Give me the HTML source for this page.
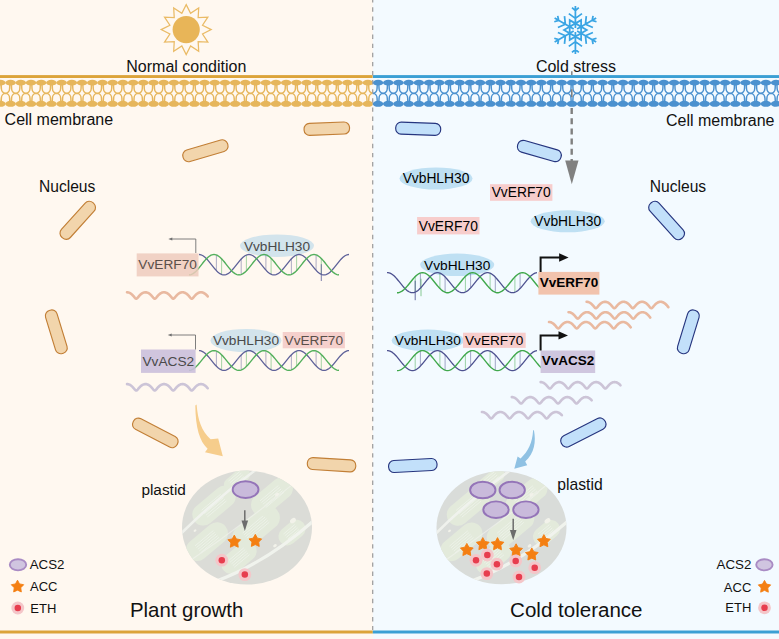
<!DOCTYPE html>
<html><head><meta charset="utf-8"><style>
html,body{margin:0;padding:0;background:#fdf8f1;}
svg{display:block;}
</style></head><body>
<svg width="779" height="639" viewBox="0 0 779 639">
<rect x="0" y="0" width="372.8" height="639" fill="#fff8f0"/>
<rect x="372.8" y="0" width="406.2" height="639" fill="#f3faff"/>
<clipPath id="cm1"><rect x="0" y="60" width="372.8" height="60"/></clipPath>
<g clip-path="url(#cm1)">
<rect x="0" y="75.1" width="372.8" height="2.9" fill="#dca43a"/>
<path d="M-10.61,84.5 L-10.81,88.6 C-10.81,90.8 -12.41,93.1 -14.91,93.3 C-12.41,93.5 -10.81,95.8 -10.81,98.0 L-10.61,102 M-9.01,84.5 L-8.81,88.6 C-8.81,90.8 -7.21,93.1 -4.71,93.3 C-7.21,93.5 -8.81,95.8 -8.81,98.0 L-9.01,102 M-0.41,84.5 L-0.61,88.6 C-0.61,90.8 -2.21,93.1 -4.71,93.3 C-2.21,93.5 -0.61,95.8 -0.61,98.0 L-0.41,102 M1.19,84.5 L1.39,88.6 C1.39,90.8 2.99,93.1 5.49,93.3 C2.99,93.5 1.39,95.8 1.39,98.0 L1.19,102 M9.80,84.5 L9.60,88.6 C9.60,90.8 8.00,93.1 5.50,93.3 C8.00,93.5 9.60,95.8 9.60,98.0 L9.80,102 M11.40,84.5 L11.60,88.6 C11.60,90.8 13.20,93.1 15.70,93.3 C13.20,93.5 11.60,95.8 11.60,98.0 L11.40,102 M20.01,84.5 L19.81,88.6 C19.81,90.8 18.21,93.1 15.71,93.3 C18.21,93.5 19.81,95.8 19.81,98.0 L20.01,102 M21.61,84.5 L21.81,88.6 C21.81,90.8 23.41,93.1 25.91,93.3 C23.41,93.5 21.81,95.8 21.81,98.0 L21.61,102 M30.21,84.5 L30.01,88.6 C30.01,90.8 28.41,93.1 25.91,93.3 C28.41,93.5 30.01,95.8 30.01,98.0 L30.21,102 M31.81,84.5 L32.01,88.6 C32.01,90.8 33.61,93.1 36.11,93.3 C33.61,93.5 32.01,95.8 32.01,98.0 L31.81,102 M40.42,84.5 L40.22,88.6 C40.22,90.8 38.62,93.1 36.12,93.3 C38.62,93.5 40.22,95.8 40.22,98.0 L40.42,102 M42.02,84.5 L42.22,88.6 C42.22,90.8 43.82,93.1 46.32,93.3 C43.82,93.5 42.22,95.8 42.22,98.0 L42.02,102 M50.63,84.5 L50.43,88.6 C50.43,90.8 48.83,93.1 46.33,93.3 C48.83,93.5 50.43,95.8 50.43,98.0 L50.63,102 M52.23,84.5 L52.43,88.6 C52.43,90.8 54.03,93.1 56.53,93.3 C54.03,93.5 52.43,95.8 52.43,98.0 L52.23,102 M60.84,84.5 L60.64,88.6 C60.64,90.8 59.04,93.1 56.54,93.3 C59.04,93.5 60.64,95.8 60.64,98.0 L60.84,102 M62.44,84.5 L62.64,88.6 C62.64,90.8 64.23,93.1 66.73,93.3 C64.23,93.5 62.64,95.8 62.64,98.0 L62.44,102 M71.04,84.5 L70.84,88.6 C70.84,90.8 69.24,93.1 66.74,93.3 C69.24,93.5 70.84,95.8 70.84,98.0 L71.04,102 M72.64,84.5 L72.84,88.6 C72.84,90.8 74.44,93.1 76.94,93.3 C74.44,93.5 72.84,95.8 72.84,98.0 L72.64,102 M81.25,84.5 L81.05,88.6 C81.05,90.8 79.45,93.1 76.95,93.3 C79.45,93.5 81.05,95.8 81.05,98.0 L81.25,102 M82.85,84.5 L83.05,88.6 C83.05,90.8 84.65,93.1 87.15,93.3 C84.65,93.5 83.05,95.8 83.05,98.0 L82.85,102 M91.46,84.5 L91.26,88.6 C91.26,90.8 89.66,93.1 87.16,93.3 C89.66,93.5 91.26,95.8 91.26,98.0 L91.46,102 M93.06,84.5 L93.26,88.6 C93.26,90.8 94.86,93.1 97.36,93.3 C94.86,93.5 93.26,95.8 93.26,98.0 L93.06,102 M101.66,84.5 L101.46,88.6 C101.46,90.8 99.86,93.1 97.36,93.3 C99.86,93.5 101.46,95.8 101.46,98.0 L101.66,102 M103.26,84.5 L103.46,88.6 C103.46,90.8 105.06,93.1 107.56,93.3 C105.06,93.5 103.46,95.8 103.46,98.0 L103.26,102 M111.87,84.5 L111.67,88.6 C111.67,90.8 110.07,93.1 107.57,93.3 C110.07,93.5 111.67,95.8 111.67,98.0 L111.87,102 M113.47,84.5 L113.67,88.6 C113.67,90.8 115.27,93.1 117.77,93.3 C115.27,93.5 113.67,95.8 113.67,98.0 L113.47,102 M122.08,84.5 L121.88,88.6 C121.88,90.8 120.28,93.1 117.78,93.3 C120.28,93.5 121.88,95.8 121.88,98.0 L122.08,102 M123.68,84.5 L123.88,88.6 C123.88,90.8 125.48,93.1 127.98,93.3 C125.48,93.5 123.88,95.8 123.88,98.0 L123.68,102 M132.28,84.5 L132.08,88.6 C132.08,90.8 130.48,93.1 127.98,93.3 C130.48,93.5 132.08,95.8 132.08,98.0 L132.28,102 M133.88,84.5 L134.08,88.6 C134.08,90.8 135.68,93.1 138.18,93.3 C135.68,93.5 134.08,95.8 134.08,98.0 L133.88,102 M142.49,84.5 L142.29,88.6 C142.29,90.8 140.69,93.1 138.19,93.3 C140.69,93.5 142.29,95.8 142.29,98.0 L142.49,102 M144.09,84.5 L144.29,88.6 C144.29,90.8 145.89,93.1 148.39,93.3 C145.89,93.5 144.29,95.8 144.29,98.0 L144.09,102 M152.70,84.5 L152.50,88.6 C152.50,90.8 150.90,93.1 148.40,93.3 C150.90,93.5 152.50,95.8 152.50,98.0 L152.70,102 M154.30,84.5 L154.50,88.6 C154.50,90.8 156.10,93.1 158.60,93.3 C156.10,93.5 154.50,95.8 154.50,98.0 L154.30,102 M162.91,84.5 L162.71,88.6 C162.71,90.8 161.11,93.1 158.61,93.3 C161.11,93.5 162.71,95.8 162.71,98.0 L162.91,102 M164.51,84.5 L164.71,88.6 C164.71,90.8 166.31,93.1 168.81,93.3 C166.31,93.5 164.71,95.8 164.71,98.0 L164.51,102 M173.11,84.5 L172.91,88.6 C172.91,90.8 171.31,93.1 168.81,93.3 C171.31,93.5 172.91,95.8 172.91,98.0 L173.11,102 M174.71,84.5 L174.91,88.6 C174.91,90.8 176.51,93.1 179.01,93.3 C176.51,93.5 174.91,95.8 174.91,98.0 L174.71,102 M183.32,84.5 L183.12,88.6 C183.12,90.8 181.52,93.1 179.02,93.3 C181.52,93.5 183.12,95.8 183.12,98.0 L183.32,102 M184.92,84.5 L185.12,88.6 C185.12,90.8 186.72,93.1 189.22,93.3 C186.72,93.5 185.12,95.8 185.12,98.0 L184.92,102 M193.53,84.5 L193.33,88.6 C193.33,90.8 191.73,93.1 189.23,93.3 C191.73,93.5 193.33,95.8 193.33,98.0 L193.53,102 M195.13,84.5 L195.33,88.6 C195.33,90.8 196.93,93.1 199.43,93.3 C196.93,93.5 195.33,95.8 195.33,98.0 L195.13,102 M203.73,84.5 L203.53,88.6 C203.53,90.8 201.93,93.1 199.43,93.3 C201.93,93.5 203.53,95.8 203.53,98.0 L203.73,102 M205.33,84.5 L205.53,88.6 C205.53,90.8 207.13,93.1 209.63,93.3 C207.13,93.5 205.53,95.8 205.53,98.0 L205.33,102 M213.94,84.5 L213.74,88.6 C213.74,90.8 212.14,93.1 209.64,93.3 C212.14,93.5 213.74,95.8 213.74,98.0 L213.94,102 M215.54,84.5 L215.74,88.6 C215.74,90.8 217.34,93.1 219.84,93.3 C217.34,93.5 215.74,95.8 215.74,98.0 L215.54,102 M224.15,84.5 L223.95,88.6 C223.95,90.8 222.35,93.1 219.85,93.3 C222.35,93.5 223.95,95.8 223.95,98.0 L224.15,102 M225.75,84.5 L225.95,88.6 C225.95,90.8 227.55,93.1 230.05,93.3 C227.55,93.5 225.95,95.8 225.95,98.0 L225.75,102 M234.35,84.5 L234.15,88.6 C234.15,90.8 232.55,93.1 230.05,93.3 C232.55,93.5 234.15,95.8 234.15,98.0 L234.35,102 M235.95,84.5 L236.15,88.6 C236.15,90.8 237.75,93.1 240.25,93.3 C237.75,93.5 236.15,95.8 236.15,98.0 L235.95,102 M244.56,84.5 L244.36,88.6 C244.36,90.8 242.76,93.1 240.26,93.3 C242.76,93.5 244.36,95.8 244.36,98.0 L244.56,102 M246.16,84.5 L246.36,88.6 C246.36,90.8 247.96,93.1 250.46,93.3 C247.96,93.5 246.36,95.8 246.36,98.0 L246.16,102 M254.77,84.5 L254.57,88.6 C254.57,90.8 252.97,93.1 250.47,93.3 C252.97,93.5 254.57,95.8 254.57,98.0 L254.77,102 M256.37,84.5 L256.57,88.6 C256.57,90.8 258.17,93.1 260.67,93.3 C258.17,93.5 256.57,95.8 256.57,98.0 L256.37,102 M264.98,84.5 L264.78,88.6 C264.78,90.8 263.18,93.1 260.68,93.3 C263.18,93.5 264.78,95.8 264.78,98.0 L264.98,102 M266.58,84.5 L266.78,88.6 C266.78,90.8 268.38,93.1 270.88,93.3 C268.38,93.5 266.78,95.8 266.78,98.0 L266.58,102 M275.18,84.5 L274.98,88.6 C274.98,90.8 273.38,93.1 270.88,93.3 C273.38,93.5 274.98,95.8 274.98,98.0 L275.18,102 M276.78,84.5 L276.98,88.6 C276.98,90.8 278.58,93.1 281.08,93.3 C278.58,93.5 276.98,95.8 276.98,98.0 L276.78,102 M285.39,84.5 L285.19,88.6 C285.19,90.8 283.59,93.1 281.09,93.3 C283.59,93.5 285.19,95.8 285.19,98.0 L285.39,102 M286.99,84.5 L287.19,88.6 C287.19,90.8 288.79,93.1 291.29,93.3 C288.79,93.5 287.19,95.8 287.19,98.0 L286.99,102 M295.60,84.5 L295.40,88.6 C295.40,90.8 293.80,93.1 291.30,93.3 C293.80,93.5 295.40,95.8 295.40,98.0 L295.60,102 M297.20,84.5 L297.40,88.6 C297.40,90.8 299.00,93.1 301.50,93.3 C299.00,93.5 297.40,95.8 297.40,98.0 L297.20,102 M305.80,84.5 L305.60,88.6 C305.60,90.8 304.00,93.1 301.50,93.3 C304.00,93.5 305.60,95.8 305.60,98.0 L305.80,102 M307.40,84.5 L307.60,88.6 C307.60,90.8 309.20,93.1 311.70,93.3 C309.20,93.5 307.60,95.8 307.60,98.0 L307.40,102 M316.01,84.5 L315.81,88.6 C315.81,90.8 314.21,93.1 311.71,93.3 C314.21,93.5 315.81,95.8 315.81,98.0 L316.01,102 M317.61,84.5 L317.81,88.6 C317.81,90.8 319.41,93.1 321.91,93.3 C319.41,93.5 317.81,95.8 317.81,98.0 L317.61,102 M326.22,84.5 L326.02,88.6 C326.02,90.8 324.42,93.1 321.92,93.3 C324.42,93.5 326.02,95.8 326.02,98.0 L326.22,102 M327.82,84.5 L328.02,88.6 C328.02,90.8 329.62,93.1 332.12,93.3 C329.62,93.5 328.02,95.8 328.02,98.0 L327.82,102 M336.42,84.5 L336.22,88.6 C336.22,90.8 334.62,93.1 332.12,93.3 C334.62,93.5 336.22,95.8 336.22,98.0 L336.42,102 M338.02,84.5 L338.22,88.6 C338.22,90.8 339.82,93.1 342.32,93.3 C339.82,93.5 338.22,95.8 338.22,98.0 L338.02,102 M346.63,84.5 L346.43,88.6 C346.43,90.8 344.83,93.1 342.33,93.3 C344.83,93.5 346.43,95.8 346.43,98.0 L346.63,102 M348.23,84.5 L348.43,88.6 C348.43,90.8 350.03,93.1 352.53,93.3 C350.03,93.5 348.43,95.8 348.43,98.0 L348.23,102 M356.84,84.5 L356.64,88.6 C356.64,90.8 355.04,93.1 352.54,93.3 C355.04,93.5 356.64,95.8 356.64,98.0 L356.84,102 M358.44,84.5 L358.64,88.6 C358.64,90.8 360.24,93.1 362.74,93.3 C360.24,93.5 358.64,95.8 358.64,98.0 L358.44,102 M367.05,84.5 L366.85,88.6 C366.85,90.8 365.25,93.1 362.75,93.3 C365.25,93.5 366.85,95.8 366.85,98.0 L367.05,102 M368.65,84.5 L368.85,88.6 C368.85,90.8 370.45,93.1 372.95,93.3 C370.45,93.5 368.85,95.8 368.85,98.0 L368.65,102 M377.25,84.5 L377.05,88.6 C377.05,90.8 375.45,93.1 372.95,93.3 C375.45,93.5 377.05,95.8 377.05,98.0 L377.25,102 M378.85,84.5 L379.05,88.6 C379.05,90.8 380.65,93.1 383.15,93.3 C380.65,93.5 379.05,95.8 379.05,98.0 L378.85,102" fill="none" stroke="#e6b65c" stroke-width="1.45"/>
<g fill="#e6b65c"><ellipse cx="-9.81" cy="82.7" rx="5.3" ry="2.85"/><ellipse cx="-9.81" cy="103.8" rx="5.3" ry="2.95"/><ellipse cx="0.39" cy="82.7" rx="5.3" ry="2.85"/><ellipse cx="0.39" cy="103.8" rx="5.3" ry="2.95"/><ellipse cx="10.60" cy="82.7" rx="5.3" ry="2.85"/><ellipse cx="10.60" cy="103.8" rx="5.3" ry="2.95"/><ellipse cx="20.81" cy="82.7" rx="5.3" ry="2.85"/><ellipse cx="20.81" cy="103.8" rx="5.3" ry="2.95"/><ellipse cx="31.01" cy="82.7" rx="5.3" ry="2.85"/><ellipse cx="31.01" cy="103.8" rx="5.3" ry="2.95"/><ellipse cx="41.22" cy="82.7" rx="5.3" ry="2.85"/><ellipse cx="41.22" cy="103.8" rx="5.3" ry="2.95"/><ellipse cx="51.43" cy="82.7" rx="5.3" ry="2.85"/><ellipse cx="51.43" cy="103.8" rx="5.3" ry="2.95"/><ellipse cx="61.64" cy="82.7" rx="5.3" ry="2.85"/><ellipse cx="61.64" cy="103.8" rx="5.3" ry="2.95"/><ellipse cx="71.84" cy="82.7" rx="5.3" ry="2.85"/><ellipse cx="71.84" cy="103.8" rx="5.3" ry="2.95"/><ellipse cx="82.05" cy="82.7" rx="5.3" ry="2.85"/><ellipse cx="82.05" cy="103.8" rx="5.3" ry="2.95"/><ellipse cx="92.26" cy="82.7" rx="5.3" ry="2.85"/><ellipse cx="92.26" cy="103.8" rx="5.3" ry="2.95"/><ellipse cx="102.46" cy="82.7" rx="5.3" ry="2.85"/><ellipse cx="102.46" cy="103.8" rx="5.3" ry="2.95"/><ellipse cx="112.67" cy="82.7" rx="5.3" ry="2.85"/><ellipse cx="112.67" cy="103.8" rx="5.3" ry="2.95"/><ellipse cx="122.88" cy="82.7" rx="5.3" ry="2.85"/><ellipse cx="122.88" cy="103.8" rx="5.3" ry="2.95"/><ellipse cx="133.08" cy="82.7" rx="5.3" ry="2.85"/><ellipse cx="133.08" cy="103.8" rx="5.3" ry="2.95"/><ellipse cx="143.29" cy="82.7" rx="5.3" ry="2.85"/><ellipse cx="143.29" cy="103.8" rx="5.3" ry="2.95"/><ellipse cx="153.50" cy="82.7" rx="5.3" ry="2.85"/><ellipse cx="153.50" cy="103.8" rx="5.3" ry="2.95"/><ellipse cx="163.71" cy="82.7" rx="5.3" ry="2.85"/><ellipse cx="163.71" cy="103.8" rx="5.3" ry="2.95"/><ellipse cx="173.91" cy="82.7" rx="5.3" ry="2.85"/><ellipse cx="173.91" cy="103.8" rx="5.3" ry="2.95"/><ellipse cx="184.12" cy="82.7" rx="5.3" ry="2.85"/><ellipse cx="184.12" cy="103.8" rx="5.3" ry="2.95"/><ellipse cx="194.33" cy="82.7" rx="5.3" ry="2.85"/><ellipse cx="194.33" cy="103.8" rx="5.3" ry="2.95"/><ellipse cx="204.53" cy="82.7" rx="5.3" ry="2.85"/><ellipse cx="204.53" cy="103.8" rx="5.3" ry="2.95"/><ellipse cx="214.74" cy="82.7" rx="5.3" ry="2.85"/><ellipse cx="214.74" cy="103.8" rx="5.3" ry="2.95"/><ellipse cx="224.95" cy="82.7" rx="5.3" ry="2.85"/><ellipse cx="224.95" cy="103.8" rx="5.3" ry="2.95"/><ellipse cx="235.15" cy="82.7" rx="5.3" ry="2.85"/><ellipse cx="235.15" cy="103.8" rx="5.3" ry="2.95"/><ellipse cx="245.36" cy="82.7" rx="5.3" ry="2.85"/><ellipse cx="245.36" cy="103.8" rx="5.3" ry="2.95"/><ellipse cx="255.57" cy="82.7" rx="5.3" ry="2.85"/><ellipse cx="255.57" cy="103.8" rx="5.3" ry="2.95"/><ellipse cx="265.78" cy="82.7" rx="5.3" ry="2.85"/><ellipse cx="265.78" cy="103.8" rx="5.3" ry="2.95"/><ellipse cx="275.98" cy="82.7" rx="5.3" ry="2.85"/><ellipse cx="275.98" cy="103.8" rx="5.3" ry="2.95"/><ellipse cx="286.19" cy="82.7" rx="5.3" ry="2.85"/><ellipse cx="286.19" cy="103.8" rx="5.3" ry="2.95"/><ellipse cx="296.40" cy="82.7" rx="5.3" ry="2.85"/><ellipse cx="296.40" cy="103.8" rx="5.3" ry="2.95"/><ellipse cx="306.60" cy="82.7" rx="5.3" ry="2.85"/><ellipse cx="306.60" cy="103.8" rx="5.3" ry="2.95"/><ellipse cx="316.81" cy="82.7" rx="5.3" ry="2.85"/><ellipse cx="316.81" cy="103.8" rx="5.3" ry="2.95"/><ellipse cx="327.02" cy="82.7" rx="5.3" ry="2.85"/><ellipse cx="327.02" cy="103.8" rx="5.3" ry="2.95"/><ellipse cx="337.22" cy="82.7" rx="5.3" ry="2.85"/><ellipse cx="337.22" cy="103.8" rx="5.3" ry="2.95"/><ellipse cx="347.43" cy="82.7" rx="5.3" ry="2.85"/><ellipse cx="347.43" cy="103.8" rx="5.3" ry="2.95"/><ellipse cx="357.64" cy="82.7" rx="5.3" ry="2.85"/><ellipse cx="357.64" cy="103.8" rx="5.3" ry="2.95"/><ellipse cx="367.85" cy="82.7" rx="5.3" ry="2.85"/><ellipse cx="367.85" cy="103.8" rx="5.3" ry="2.95"/><ellipse cx="378.05" cy="82.7" rx="5.3" ry="2.85"/><ellipse cx="378.05" cy="103.8" rx="5.3" ry="2.95"/></g>
</g>
<clipPath id="cm2"><rect x="372.8" y="60" width="406.2" height="60"/></clipPath>
<g clip-path="url(#cm2)">
<rect x="372.8" y="75.1" width="406.2" height="2.9" fill="#3b9fd4"/>
<path d="M367.05,84.5 L366.85,88.6 C366.85,90.8 365.25,93.1 362.75,93.3 C365.25,93.5 366.85,95.8 366.85,98.0 L367.05,102 M368.65,84.5 L368.85,88.6 C368.85,90.8 370.45,93.1 372.95,93.3 C370.45,93.5 368.85,95.8 368.85,98.0 L368.65,102 M377.25,84.5 L377.05,88.6 C377.05,90.8 375.45,93.1 372.95,93.3 C375.45,93.5 377.05,95.8 377.05,98.0 L377.25,102 M378.85,84.5 L379.05,88.6 C379.05,90.8 380.65,93.1 383.15,93.3 C380.65,93.5 379.05,95.8 379.05,98.0 L378.85,102 M387.46,84.5 L387.26,88.6 C387.26,90.8 385.66,93.1 383.16,93.3 C385.66,93.5 387.26,95.8 387.26,98.0 L387.46,102 M389.06,84.5 L389.26,88.6 C389.26,90.8 390.86,93.1 393.36,93.3 C390.86,93.5 389.26,95.8 389.26,98.0 L389.06,102 M397.67,84.5 L397.47,88.6 C397.47,90.8 395.87,93.1 393.37,93.3 C395.87,93.5 397.47,95.8 397.47,98.0 L397.67,102 M399.27,84.5 L399.47,88.6 C399.47,90.8 401.07,93.1 403.57,93.3 C401.07,93.5 399.47,95.8 399.47,98.0 L399.27,102 M407.87,84.5 L407.67,88.6 C407.67,90.8 406.07,93.1 403.57,93.3 C406.07,93.5 407.67,95.8 407.67,98.0 L407.87,102 M409.47,84.5 L409.67,88.6 C409.67,90.8 411.27,93.1 413.77,93.3 C411.27,93.5 409.67,95.8 409.67,98.0 L409.47,102 M418.08,84.5 L417.88,88.6 C417.88,90.8 416.28,93.1 413.78,93.3 C416.28,93.5 417.88,95.8 417.88,98.0 L418.08,102 M419.68,84.5 L419.88,88.6 C419.88,90.8 421.48,93.1 423.98,93.3 C421.48,93.5 419.88,95.8 419.88,98.0 L419.68,102 M428.29,84.5 L428.09,88.6 C428.09,90.8 426.49,93.1 423.99,93.3 C426.49,93.5 428.09,95.8 428.09,98.0 L428.29,102 M429.89,84.5 L430.09,88.6 C430.09,90.8 431.69,93.1 434.19,93.3 C431.69,93.5 430.09,95.8 430.09,98.0 L429.89,102 M438.49,84.5 L438.29,88.6 C438.29,90.8 436.69,93.1 434.19,93.3 C436.69,93.5 438.29,95.8 438.29,98.0 L438.49,102 M440.09,84.5 L440.29,88.6 C440.29,90.8 441.89,93.1 444.39,93.3 C441.89,93.5 440.29,95.8 440.29,98.0 L440.09,102 M448.70,84.5 L448.50,88.6 C448.50,90.8 446.90,93.1 444.40,93.3 C446.90,93.5 448.50,95.8 448.50,98.0 L448.70,102 M450.30,84.5 L450.50,88.6 C450.50,90.8 452.10,93.1 454.60,93.3 C452.10,93.5 450.50,95.8 450.50,98.0 L450.30,102 M458.91,84.5 L458.71,88.6 C458.71,90.8 457.11,93.1 454.61,93.3 C457.11,93.5 458.71,95.8 458.71,98.0 L458.91,102 M460.51,84.5 L460.71,88.6 C460.71,90.8 462.31,93.1 464.81,93.3 C462.31,93.5 460.71,95.8 460.71,98.0 L460.51,102 M469.12,84.5 L468.92,88.6 C468.92,90.8 467.32,93.1 464.82,93.3 C467.32,93.5 468.92,95.8 468.92,98.0 L469.12,102 M470.72,84.5 L470.92,88.6 C470.92,90.8 472.52,93.1 475.02,93.3 C472.52,93.5 470.92,95.8 470.92,98.0 L470.72,102 M479.32,84.5 L479.12,88.6 C479.12,90.8 477.52,93.1 475.02,93.3 C477.52,93.5 479.12,95.8 479.12,98.0 L479.32,102 M480.92,84.5 L481.12,88.6 C481.12,90.8 482.72,93.1 485.22,93.3 C482.72,93.5 481.12,95.8 481.12,98.0 L480.92,102 M489.53,84.5 L489.33,88.6 C489.33,90.8 487.73,93.1 485.23,93.3 C487.73,93.5 489.33,95.8 489.33,98.0 L489.53,102 M491.13,84.5 L491.33,88.6 C491.33,90.8 492.93,93.1 495.43,93.3 C492.93,93.5 491.33,95.8 491.33,98.0 L491.13,102 M499.74,84.5 L499.54,88.6 C499.54,90.8 497.94,93.1 495.44,93.3 C497.94,93.5 499.54,95.8 499.54,98.0 L499.74,102 M501.34,84.5 L501.54,88.6 C501.54,90.8 503.14,93.1 505.64,93.3 C503.14,93.5 501.54,95.8 501.54,98.0 L501.34,102 M509.94,84.5 L509.74,88.6 C509.74,90.8 508.14,93.1 505.64,93.3 C508.14,93.5 509.74,95.8 509.74,98.0 L509.94,102 M511.54,84.5 L511.74,88.6 C511.74,90.8 513.34,93.1 515.84,93.3 C513.34,93.5 511.74,95.8 511.74,98.0 L511.54,102 M520.15,84.5 L519.95,88.6 C519.95,90.8 518.35,93.1 515.85,93.3 C518.35,93.5 519.95,95.8 519.95,98.0 L520.15,102 M521.75,84.5 L521.95,88.6 C521.95,90.8 523.55,93.1 526.05,93.3 C523.55,93.5 521.95,95.8 521.95,98.0 L521.75,102 M530.36,84.5 L530.16,88.6 C530.16,90.8 528.56,93.1 526.06,93.3 C528.56,93.5 530.16,95.8 530.16,98.0 L530.36,102 M531.96,84.5 L532.16,88.6 C532.16,90.8 533.76,93.1 536.26,93.3 C533.76,93.5 532.16,95.8 532.16,98.0 L531.96,102 M540.56,84.5 L540.36,88.6 C540.36,90.8 538.76,93.1 536.26,93.3 C538.76,93.5 540.36,95.8 540.36,98.0 L540.56,102 M542.16,84.5 L542.36,88.6 C542.36,90.8 543.96,93.1 546.46,93.3 C543.96,93.5 542.36,95.8 542.36,98.0 L542.16,102 M550.77,84.5 L550.57,88.6 C550.57,90.8 548.97,93.1 546.47,93.3 C548.97,93.5 550.57,95.8 550.57,98.0 L550.77,102 M552.37,84.5 L552.57,88.6 C552.57,90.8 554.17,93.1 556.67,93.3 C554.17,93.5 552.57,95.8 552.57,98.0 L552.37,102 M560.98,84.5 L560.78,88.6 C560.78,90.8 559.18,93.1 556.68,93.3 C559.18,93.5 560.78,95.8 560.78,98.0 L560.98,102 M562.58,84.5 L562.78,88.6 C562.78,90.8 564.38,93.1 566.88,93.3 C564.38,93.5 562.78,95.8 562.78,98.0 L562.58,102 M571.19,84.5 L570.99,88.6 C570.99,90.8 569.38,93.1 566.88,93.3 C569.38,93.5 570.99,95.8 570.99,98.0 L571.19,102 M572.78,84.5 L572.99,88.6 C572.99,90.8 574.59,93.1 577.09,93.3 C574.59,93.5 572.99,95.8 572.99,98.0 L572.78,102 M581.39,84.5 L581.19,88.6 C581.19,90.8 579.59,93.1 577.09,93.3 C579.59,93.5 581.19,95.8 581.19,98.0 L581.39,102 M582.99,84.5 L583.19,88.6 C583.19,90.8 584.79,93.1 587.29,93.3 C584.79,93.5 583.19,95.8 583.19,98.0 L582.99,102 M591.60,84.5 L591.40,88.6 C591.40,90.8 589.80,93.1 587.30,93.3 C589.80,93.5 591.40,95.8 591.40,98.0 L591.60,102 M593.20,84.5 L593.40,88.6 C593.40,90.8 595.00,93.1 597.50,93.3 C595.00,93.5 593.40,95.8 593.40,98.0 L593.20,102 M601.81,84.5 L601.61,88.6 C601.61,90.8 600.01,93.1 597.51,93.3 C600.01,93.5 601.61,95.8 601.61,98.0 L601.81,102 M603.41,84.5 L603.61,88.6 C603.61,90.8 605.21,93.1 607.71,93.3 C605.21,93.5 603.61,95.8 603.61,98.0 L603.41,102 M612.01,84.5 L611.81,88.6 C611.81,90.8 610.21,93.1 607.71,93.3 C610.21,93.5 611.81,95.8 611.81,98.0 L612.01,102 M613.61,84.5 L613.81,88.6 C613.81,90.8 615.41,93.1 617.91,93.3 C615.41,93.5 613.81,95.8 613.81,98.0 L613.61,102 M622.22,84.5 L622.02,88.6 C622.02,90.8 620.42,93.1 617.92,93.3 C620.42,93.5 622.02,95.8 622.02,98.0 L622.22,102 M623.82,84.5 L624.02,88.6 C624.02,90.8 625.62,93.1 628.12,93.3 C625.62,93.5 624.02,95.8 624.02,98.0 L623.82,102 M632.43,84.5 L632.23,88.6 C632.23,90.8 630.63,93.1 628.13,93.3 C630.63,93.5 632.23,95.8 632.23,98.0 L632.43,102 M634.03,84.5 L634.23,88.6 C634.23,90.8 635.83,93.1 638.33,93.3 C635.83,93.5 634.23,95.8 634.23,98.0 L634.03,102 M642.63,84.5 L642.43,88.6 C642.43,90.8 640.83,93.1 638.33,93.3 C640.83,93.5 642.43,95.8 642.43,98.0 L642.63,102 M644.23,84.5 L644.43,88.6 C644.43,90.8 646.03,93.1 648.53,93.3 C646.03,93.5 644.43,95.8 644.43,98.0 L644.23,102 M652.84,84.5 L652.64,88.6 C652.64,90.8 651.04,93.1 648.54,93.3 C651.04,93.5 652.64,95.8 652.64,98.0 L652.84,102 M654.44,84.5 L654.64,88.6 C654.64,90.8 656.24,93.1 658.74,93.3 C656.24,93.5 654.64,95.8 654.64,98.0 L654.44,102 M663.05,84.5 L662.85,88.6 C662.85,90.8 661.25,93.1 658.75,93.3 C661.25,93.5 662.85,95.8 662.85,98.0 L663.05,102 M664.65,84.5 L664.85,88.6 C664.85,90.8 666.45,93.1 668.95,93.3 C666.45,93.5 664.85,95.8 664.85,98.0 L664.65,102 M673.26,84.5 L673.06,88.6 C673.06,90.8 671.46,93.1 668.96,93.3 C671.46,93.5 673.06,95.8 673.06,98.0 L673.26,102 M674.86,84.5 L675.06,88.6 C675.06,90.8 676.66,93.1 679.16,93.3 C676.66,93.5 675.06,95.8 675.06,98.0 L674.86,102 M683.46,84.5 L683.26,88.6 C683.26,90.8 681.66,93.1 679.16,93.3 C681.66,93.5 683.26,95.8 683.26,98.0 L683.46,102 M685.06,84.5 L685.26,88.6 C685.26,90.8 686.86,93.1 689.36,93.3 C686.86,93.5 685.26,95.8 685.26,98.0 L685.06,102 M693.67,84.5 L693.47,88.6 C693.47,90.8 691.87,93.1 689.37,93.3 C691.87,93.5 693.47,95.8 693.47,98.0 L693.67,102 M695.27,84.5 L695.47,88.6 C695.47,90.8 697.07,93.1 699.57,93.3 C697.07,93.5 695.47,95.8 695.47,98.0 L695.27,102 M703.88,84.5 L703.68,88.6 C703.68,90.8 702.08,93.1 699.58,93.3 C702.08,93.5 703.68,95.8 703.68,98.0 L703.88,102 M705.48,84.5 L705.68,88.6 C705.68,90.8 707.28,93.1 709.78,93.3 C707.28,93.5 705.68,95.8 705.68,98.0 L705.48,102 M714.08,84.5 L713.88,88.6 C713.88,90.8 712.28,93.1 709.78,93.3 C712.28,93.5 713.88,95.8 713.88,98.0 L714.08,102 M715.68,84.5 L715.88,88.6 C715.88,90.8 717.48,93.1 719.98,93.3 C717.48,93.5 715.88,95.8 715.88,98.0 L715.68,102 M724.29,84.5 L724.09,88.6 C724.09,90.8 722.49,93.1 719.99,93.3 C722.49,93.5 724.09,95.8 724.09,98.0 L724.29,102 M725.89,84.5 L726.09,88.6 C726.09,90.8 727.69,93.1 730.19,93.3 C727.69,93.5 726.09,95.8 726.09,98.0 L725.89,102 M734.50,84.5 L734.30,88.6 C734.30,90.8 732.70,93.1 730.20,93.3 C732.70,93.5 734.30,95.8 734.30,98.0 L734.50,102 M736.10,84.5 L736.30,88.6 C736.30,90.8 737.90,93.1 740.40,93.3 C737.90,93.5 736.30,95.8 736.30,98.0 L736.10,102 M744.70,84.5 L744.50,88.6 C744.50,90.8 742.90,93.1 740.40,93.3 C742.90,93.5 744.50,95.8 744.50,98.0 L744.70,102 M746.30,84.5 L746.50,88.6 C746.50,90.8 748.10,93.1 750.60,93.3 C748.10,93.5 746.50,95.8 746.50,98.0 L746.30,102 M754.91,84.5 L754.71,88.6 C754.71,90.8 753.11,93.1 750.61,93.3 C753.11,93.5 754.71,95.8 754.71,98.0 L754.91,102 M756.51,84.5 L756.71,88.6 C756.71,90.8 758.31,93.1 760.81,93.3 C758.31,93.5 756.71,95.8 756.71,98.0 L756.51,102 M765.12,84.5 L764.92,88.6 C764.92,90.8 763.32,93.1 760.82,93.3 C763.32,93.5 764.92,95.8 764.92,98.0 L765.12,102 M766.72,84.5 L766.92,88.6 C766.92,90.8 768.52,93.1 771.02,93.3 C768.52,93.5 766.92,95.8 766.92,98.0 L766.72,102 M775.33,84.5 L775.13,88.6 C775.13,90.8 773.53,93.1 771.03,93.3 C773.53,93.5 775.13,95.8 775.13,98.0 L775.33,102 M776.93,84.5 L777.13,88.6 C777.13,90.8 778.73,93.1 781.23,93.3 C778.73,93.5 777.13,95.8 777.13,98.0 L776.93,102 M785.53,84.5 L785.33,88.6 C785.33,90.8 783.73,93.1 781.23,93.3 C783.73,93.5 785.33,95.8 785.33,98.0 L785.53,102 M787.13,84.5 L787.33,88.6 C787.33,90.8 788.93,93.1 791.43,93.3 C788.93,93.5 787.33,95.8 787.33,98.0 L787.13,102" fill="none" stroke="#4b91cf" stroke-width="1.45"/>
<g fill="#4b91cf"><ellipse cx="367.85" cy="82.7" rx="5.3" ry="2.85"/><ellipse cx="367.85" cy="103.8" rx="5.3" ry="2.95"/><ellipse cx="378.05" cy="82.7" rx="5.3" ry="2.85"/><ellipse cx="378.05" cy="103.8" rx="5.3" ry="2.95"/><ellipse cx="388.26" cy="82.7" rx="5.3" ry="2.85"/><ellipse cx="388.26" cy="103.8" rx="5.3" ry="2.95"/><ellipse cx="398.47" cy="82.7" rx="5.3" ry="2.85"/><ellipse cx="398.47" cy="103.8" rx="5.3" ry="2.95"/><ellipse cx="408.67" cy="82.7" rx="5.3" ry="2.85"/><ellipse cx="408.67" cy="103.8" rx="5.3" ry="2.95"/><ellipse cx="418.88" cy="82.7" rx="5.3" ry="2.85"/><ellipse cx="418.88" cy="103.8" rx="5.3" ry="2.95"/><ellipse cx="429.09" cy="82.7" rx="5.3" ry="2.85"/><ellipse cx="429.09" cy="103.8" rx="5.3" ry="2.95"/><ellipse cx="439.29" cy="82.7" rx="5.3" ry="2.85"/><ellipse cx="439.29" cy="103.8" rx="5.3" ry="2.95"/><ellipse cx="449.50" cy="82.7" rx="5.3" ry="2.85"/><ellipse cx="449.50" cy="103.8" rx="5.3" ry="2.95"/><ellipse cx="459.71" cy="82.7" rx="5.3" ry="2.85"/><ellipse cx="459.71" cy="103.8" rx="5.3" ry="2.95"/><ellipse cx="469.92" cy="82.7" rx="5.3" ry="2.85"/><ellipse cx="469.92" cy="103.8" rx="5.3" ry="2.95"/><ellipse cx="480.12" cy="82.7" rx="5.3" ry="2.85"/><ellipse cx="480.12" cy="103.8" rx="5.3" ry="2.95"/><ellipse cx="490.33" cy="82.7" rx="5.3" ry="2.85"/><ellipse cx="490.33" cy="103.8" rx="5.3" ry="2.95"/><ellipse cx="500.54" cy="82.7" rx="5.3" ry="2.85"/><ellipse cx="500.54" cy="103.8" rx="5.3" ry="2.95"/><ellipse cx="510.74" cy="82.7" rx="5.3" ry="2.85"/><ellipse cx="510.74" cy="103.8" rx="5.3" ry="2.95"/><ellipse cx="520.95" cy="82.7" rx="5.3" ry="2.85"/><ellipse cx="520.95" cy="103.8" rx="5.3" ry="2.95"/><ellipse cx="531.16" cy="82.7" rx="5.3" ry="2.85"/><ellipse cx="531.16" cy="103.8" rx="5.3" ry="2.95"/><ellipse cx="541.36" cy="82.7" rx="5.3" ry="2.85"/><ellipse cx="541.36" cy="103.8" rx="5.3" ry="2.95"/><ellipse cx="551.57" cy="82.7" rx="5.3" ry="2.85"/><ellipse cx="551.57" cy="103.8" rx="5.3" ry="2.95"/><ellipse cx="561.78" cy="82.7" rx="5.3" ry="2.85"/><ellipse cx="561.78" cy="103.8" rx="5.3" ry="2.95"/><ellipse cx="571.99" cy="82.7" rx="5.3" ry="2.85"/><ellipse cx="571.99" cy="103.8" rx="5.3" ry="2.95"/><ellipse cx="582.19" cy="82.7" rx="5.3" ry="2.85"/><ellipse cx="582.19" cy="103.8" rx="5.3" ry="2.95"/><ellipse cx="592.40" cy="82.7" rx="5.3" ry="2.85"/><ellipse cx="592.40" cy="103.8" rx="5.3" ry="2.95"/><ellipse cx="602.61" cy="82.7" rx="5.3" ry="2.85"/><ellipse cx="602.61" cy="103.8" rx="5.3" ry="2.95"/><ellipse cx="612.81" cy="82.7" rx="5.3" ry="2.85"/><ellipse cx="612.81" cy="103.8" rx="5.3" ry="2.95"/><ellipse cx="623.02" cy="82.7" rx="5.3" ry="2.85"/><ellipse cx="623.02" cy="103.8" rx="5.3" ry="2.95"/><ellipse cx="633.23" cy="82.7" rx="5.3" ry="2.85"/><ellipse cx="633.23" cy="103.8" rx="5.3" ry="2.95"/><ellipse cx="643.43" cy="82.7" rx="5.3" ry="2.85"/><ellipse cx="643.43" cy="103.8" rx="5.3" ry="2.95"/><ellipse cx="653.64" cy="82.7" rx="5.3" ry="2.85"/><ellipse cx="653.64" cy="103.8" rx="5.3" ry="2.95"/><ellipse cx="663.85" cy="82.7" rx="5.3" ry="2.85"/><ellipse cx="663.85" cy="103.8" rx="5.3" ry="2.95"/><ellipse cx="674.06" cy="82.7" rx="5.3" ry="2.85"/><ellipse cx="674.06" cy="103.8" rx="5.3" ry="2.95"/><ellipse cx="684.26" cy="82.7" rx="5.3" ry="2.85"/><ellipse cx="684.26" cy="103.8" rx="5.3" ry="2.95"/><ellipse cx="694.47" cy="82.7" rx="5.3" ry="2.85"/><ellipse cx="694.47" cy="103.8" rx="5.3" ry="2.95"/><ellipse cx="704.68" cy="82.7" rx="5.3" ry="2.85"/><ellipse cx="704.68" cy="103.8" rx="5.3" ry="2.95"/><ellipse cx="714.88" cy="82.7" rx="5.3" ry="2.85"/><ellipse cx="714.88" cy="103.8" rx="5.3" ry="2.95"/><ellipse cx="725.09" cy="82.7" rx="5.3" ry="2.85"/><ellipse cx="725.09" cy="103.8" rx="5.3" ry="2.95"/><ellipse cx="735.30" cy="82.7" rx="5.3" ry="2.85"/><ellipse cx="735.30" cy="103.8" rx="5.3" ry="2.95"/><ellipse cx="745.50" cy="82.7" rx="5.3" ry="2.85"/><ellipse cx="745.50" cy="103.8" rx="5.3" ry="2.95"/><ellipse cx="755.71" cy="82.7" rx="5.3" ry="2.85"/><ellipse cx="755.71" cy="103.8" rx="5.3" ry="2.95"/><ellipse cx="765.92" cy="82.7" rx="5.3" ry="2.85"/><ellipse cx="765.92" cy="103.8" rx="5.3" ry="2.95"/><ellipse cx="776.13" cy="82.7" rx="5.3" ry="2.85"/><ellipse cx="776.13" cy="103.8" rx="5.3" ry="2.95"/><ellipse cx="786.33" cy="82.7" rx="5.3" ry="2.85"/><ellipse cx="786.33" cy="103.8" rx="5.3" ry="2.95"/></g>
</g>
<line x1="372.7" y1="-1.8" x2="372.7" y2="630" stroke="#9c9c9c" stroke-width="1.25" stroke-dasharray="4.4 4.7"/>
<rect x="0" y="630.5" width="372.8" height="3" fill="#dca43a"/>
<rect x="372.8" y="630.5" width="406.2" height="3" fill="#3b9fd4"/>
<polygon points="186.20,4.60 190.57,13.28 198.70,7.95 198.15,17.65 207.85,17.10 202.52,25.23 211.20,29.60 202.52,33.97 207.85,42.10 198.15,41.55 198.70,51.25 190.57,45.92 186.20,54.60 181.83,45.92 173.70,51.25 174.25,41.55 164.55,42.10 169.88,33.97 161.20,29.60 169.88,25.23 164.55,17.10 174.25,17.65 173.70,7.95 181.83,13.28" fill="none" stroke="#eabb66" stroke-width="1.25" stroke-linejoin="miter"/>
<circle cx="186.2" cy="29.6" r="13.6" fill="#e8b558"/>
<path d="M575.40,28.00 L575.40,6.00 M575.40,10.70 L578.80,7.60 M575.40,10.70 L572.00,7.60 M575.40,18.40 L582.00,13.60 M575.40,18.40 L568.80,13.60 M577.13,29.00 L596.18,18.00 M592.11,20.35 L596.50,21.74 M592.11,20.35 L593.10,15.86 M585.45,24.20 L592.90,27.52 M585.45,24.20 L586.30,16.08 M577.13,31.00 L596.18,42.00 M592.11,39.65 L593.10,44.14 M592.11,39.65 L596.50,38.26 M585.45,35.80 L586.30,43.92 M585.45,35.80 L592.90,32.48 M575.40,32.00 L575.40,54.00 M575.40,49.30 L572.00,52.40 M575.40,49.30 L578.80,52.40 M575.40,41.60 L568.80,46.40 M575.40,41.60 L582.00,46.40 M573.67,31.00 L554.62,42.00 M558.69,39.65 L554.30,38.26 M558.69,39.65 L557.70,44.14 M565.35,35.80 L557.90,32.48 M565.35,35.80 L564.50,43.92 M573.67,29.00 L554.62,18.00 M558.69,20.35 L557.70,15.86 M558.69,20.35 L554.30,21.74 M565.35,24.20 L564.50,16.08 M565.35,24.20 L557.90,27.52 M586.80,30.00 L569.70,39.87 L569.70,20.13 Z M581.10,39.87 L564.00,30.00 L581.10,20.13 Z" fill="none" stroke="#3aa5e4" stroke-width="1.75" stroke-linecap="butt" stroke-linejoin="miter"/>
<text x="186.3" y="71.6" font-family="Liberation Sans, sans-serif" font-size="16" text-anchor="middle" font-weight="normal" fill="#111">Normal condition</text>
<text x="575.9" y="71.6" font-family="Liberation Sans, sans-serif" font-size="16" text-anchor="middle" font-weight="normal" fill="#111">Cold stress</text>
<text x="4.6" y="125.3" font-family="Liberation Sans, sans-serif" font-size="16" text-anchor="start" font-weight="normal" fill="#111">Cell membrane</text>
<text x="774.5" y="125.5" font-family="Liberation Sans, sans-serif" font-size="16" text-anchor="end" font-weight="normal" fill="#111">Cell membrane</text>
<text x="39" y="192.3" font-family="Liberation Sans, sans-serif" font-size="15.6" text-anchor="start" font-weight="normal" fill="#111">Nucleus</text>
<text x="649.8" y="192.3" font-family="Liberation Sans, sans-serif" font-size="15.6" text-anchor="start" font-weight="normal" fill="#111">Nucleus</text>
<rect x="304.05" y="122.70" width="45.50" height="12.00" rx="5.5" ry="5.5" fill="#f2d5ac" stroke="#c27f36" stroke-width="1.15" transform="rotate(-2.3 326.80 128.70)"/>
<rect x="182.15" y="144.75" width="46.50" height="12.00" rx="5.5" ry="5.5" fill="#f2d5ac" stroke="#c27f36" stroke-width="1.15" transform="rotate(-16.5 205.40 150.75)"/>
<rect x="54.50" y="214.30" width="46.50" height="12.00" rx="5.5" ry="5.5" fill="#f2d5ac" stroke="#c27f36" stroke-width="1.15" transform="rotate(-48 77.75 220.30)"/>
<rect x="33.80" y="325.85" width="45.00" height="12.00" rx="5.5" ry="5.5" fill="#f2d5ac" stroke="#c27f36" stroke-width="1.15" transform="rotate(73 56.30 331.85)"/>
<rect x="130.55" y="426.90" width="49.50" height="12.00" rx="5.5" ry="5.5" fill="#f2d5ac" stroke="#c27f36" stroke-width="1.15" transform="rotate(27.5 155.30 432.90)"/>
<rect x="307.30" y="458.70" width="48.50" height="12.00" rx="5.5" ry="5.5" fill="#f2d5ac" stroke="#c27f36" stroke-width="1.15" transform="rotate(3.5 331.55 464.70)"/>
<rect x="395.70" y="122.75" width="45.00" height="12.00" rx="5.5" ry="5.5" fill="#c2e0fa" stroke="#26357f" stroke-width="1.15" transform="rotate(2.0 418.20 128.75)"/>
<rect x="516.85" y="145.00" width="45.00" height="12.00" rx="5.5" ry="5.5" fill="#c2e0fa" stroke="#26357f" stroke-width="1.15" transform="rotate(16 539.35 151.00)"/>
<rect x="643.10" y="214.50" width="47.00" height="12.00" rx="5.5" ry="5.5" fill="#c2e0fa" stroke="#26357f" stroke-width="1.15" transform="rotate(48 666.60 220.50)"/>
<rect x="665.85" y="325.85" width="45.00" height="12.00" rx="5.5" ry="5.5" fill="#c2e0fa" stroke="#26357f" stroke-width="1.15" transform="rotate(-73 688.35 331.85)"/>
<rect x="558.85" y="426.50" width="49.00" height="12.00" rx="5.5" ry="5.5" fill="#c2e0fa" stroke="#26357f" stroke-width="1.15" transform="rotate(-27 583.35 432.50)"/>
<rect x="388.55" y="459.50" width="48.50" height="12.00" rx="5.5" ry="5.5" fill="#c2e0fa" stroke="#26357f" stroke-width="1.15" transform="rotate(-3.0 412.80 465.50)"/>
<ellipse cx="277" cy="245.7" rx="37" ry="11.2" fill="#d3e4ec"/>
<text x="277.00" y="250.63" font-family="Liberation Sans, sans-serif" font-size="13.7" text-anchor="middle" fill="#4a4a4a">VvbHLH30</text>
<g opacity="0.9">
<line x1="216.40" y1="270.59" x2="216.40" y2="254.96" stroke="#4d5190" stroke-width="0.9" opacity="0.55"/><line x1="221.60" y1="274.44" x2="221.60" y2="258.81" stroke="#40a84c" stroke-width="0.9" opacity="0.55"/><line x1="241.20" y1="259.02" x2="241.20" y2="274.51" stroke="#4d5190" stroke-width="0.9" opacity="0.55"/><line x1="246.40" y1="255.04" x2="246.40" y2="270.80" stroke="#40a84c" stroke-width="0.9" opacity="0.55"/><line x1="265.90" y1="270.06" x2="265.90" y2="254.79" stroke="#4d5190" stroke-width="0.9" opacity="0.55"/><line x1="271.10" y1="274.23" x2="271.10" y2="258.30" stroke="#40a84c" stroke-width="0.9" opacity="0.55"/><line x1="291.40" y1="258.81" x2="291.40" y2="274.44" stroke="#4d5190" stroke-width="0.9" opacity="0.55"/><line x1="296.60" y1="254.96" x2="296.60" y2="270.59" stroke="#40a84c" stroke-width="0.9" opacity="0.55"/><line x1="316.10" y1="270.27" x2="316.10" y2="254.85" stroke="#4d5190" stroke-width="0.9" opacity="0.55"/><line x1="321.30" y1="274.32" x2="321.30" y2="258.50" stroke="#40a84c" stroke-width="0.9" opacity="0.55"/>
<line x1="321.3" y1="264.20" x2="321.3" y2="281.00" stroke="#4d5190" stroke-width="1" opacity="0.8"/>
<path d="M199.00,254.50 L200.00,254.58 L201.00,254.82 L202.00,255.22 L203.00,255.76 L204.00,256.45 L205.00,257.26 L206.00,258.20 L207.00,259.23 L208.00,260.36 L209.00,261.55 L210.00,262.79 L211.00,264.06 L212.00,265.34 L213.00,266.61 L214.00,267.85 L215.00,269.04 L216.00,270.17 L217.00,271.20 L218.00,272.14 L219.00,272.95 L220.00,273.64 L221.00,274.18 L222.00,274.58 L223.00,274.82 L224.00,274.90 L225.00,274.82 L226.00,274.58 L227.00,274.18 L228.00,273.64 L229.00,272.95 L230.00,272.14 L231.00,271.20 L232.00,270.17 L233.00,269.04 L234.00,267.85 L235.00,266.61 L236.00,265.34 L237.00,264.06 L238.00,262.79 L239.00,261.55 L240.00,260.36 L241.00,259.23 L242.00,258.20 L243.00,257.26 L244.00,256.45 L245.00,255.76 L246.00,255.22 L247.00,254.82 L248.00,254.58 L249.00,254.50 L250.00,254.58 L251.00,254.82 L252.00,255.22 L253.00,255.76 L254.00,256.45 L255.00,257.26 L256.00,258.20 L257.00,259.23 L258.00,260.36 L259.00,261.55 L260.00,262.79 L261.00,264.06 L262.00,265.34 L263.00,266.61 L264.00,267.85 L265.00,269.04 L266.00,270.17 L267.00,271.20 L268.00,272.14 L269.00,272.95 L270.00,273.64 L271.00,274.18 L272.00,274.58 L273.00,274.82 L274.00,274.90 L275.00,274.82 L276.00,274.58 L277.00,274.18 L278.00,273.64 L279.00,272.95 L280.00,272.14 L281.00,271.20 L282.00,270.17 L283.00,269.04 L284.00,267.85 L285.00,266.61 L286.00,265.34 L287.00,264.06 L288.00,262.79 L289.00,261.55 L290.00,260.36 L291.00,259.23 L292.00,258.20 L293.00,257.26 L294.00,256.45 L295.00,255.76 L296.00,255.22 L297.00,254.82 L298.00,254.58 L299.00,254.50 L300.00,254.58 L301.00,254.82 L302.00,255.22 L303.00,255.76 L304.00,256.45 L305.00,257.26 L306.00,258.20 L307.00,259.23 L308.00,260.36 L309.00,261.55 L310.00,262.79 L311.00,264.06 L312.00,265.34 L313.00,266.61 L314.00,267.85 L315.00,269.04 L316.00,270.17 L317.00,271.20 L318.00,272.14 L319.00,272.95 L320.00,273.64 L321.00,274.18 L322.00,274.58 L323.00,274.82 L324.00,274.90 L325.00,274.82 L326.00,274.58 L327.00,274.18 L328.00,273.64 L329.00,272.95 L330.00,272.14 L331.00,271.20 L332.00,270.17 L333.00,269.04 L334.00,267.85 L335.00,266.61 L336.00,265.34 L337.00,264.06 L338.00,262.79 L339.00,261.55 L340.00,260.36 L341.00,259.23 L342.00,258.20 L343.00,257.26 L344.00,256.45 L345.00,255.76 L346.00,255.22 L347.00,254.82 L348.00,254.58 L349.00,254.50" fill="none" stroke="#4d5190" stroke-width="1.3"/>
<path d="M189.00,274.90 L190.00,274.82 L191.00,274.58 L192.00,274.18 L193.00,273.64 L194.00,272.95 L195.00,272.14 L196.00,271.20 L197.00,270.17 L198.00,269.04 L199.00,267.85 L200.00,266.61 L201.00,265.34 L202.00,264.06 L203.00,262.79 L204.00,261.55 L205.00,260.36 L206.00,259.23 L207.00,258.20 L208.00,257.26 L209.00,256.45 L210.00,255.76 L211.00,255.22 L212.00,254.82 L213.00,254.58 L214.00,254.50 L215.00,254.58 L216.00,254.82 L217.00,255.22 L218.00,255.76 L219.00,256.45 L220.00,257.26 L221.00,258.20 L222.00,259.23 L223.00,260.36 L224.00,261.55 L225.00,262.79 L226.00,264.06 L227.00,265.34 L228.00,266.61 L229.00,267.85 L230.00,269.04 L231.00,270.17 L232.00,271.20 L233.00,272.14 L234.00,272.95 L235.00,273.64 L236.00,274.18 L237.00,274.58 L238.00,274.82 L239.00,274.90 L240.00,274.82 L241.00,274.58 L242.00,274.18 L243.00,273.64 L244.00,272.95 L245.00,272.14 L246.00,271.20 L247.00,270.17 L248.00,269.04 L249.00,267.85 L250.00,266.61 L251.00,265.34 L252.00,264.06 L253.00,262.79 L254.00,261.55 L255.00,260.36 L256.00,259.23 L257.00,258.20 L258.00,257.26 L259.00,256.45 L260.00,255.76 L261.00,255.22 L262.00,254.82 L263.00,254.58 L264.00,254.50 L265.00,254.58 L266.00,254.82 L267.00,255.22 L268.00,255.76 L269.00,256.45 L270.00,257.26 L271.00,258.20 L272.00,259.23 L273.00,260.36 L274.00,261.55 L275.00,262.79 L276.00,264.06 L277.00,265.34 L278.00,266.61 L279.00,267.85 L280.00,269.04 L281.00,270.17 L282.00,271.20 L283.00,272.14 L284.00,272.95 L285.00,273.64 L286.00,274.18 L287.00,274.58 L288.00,274.82 L289.00,274.90 L290.00,274.82 L291.00,274.58 L292.00,274.18 L293.00,273.64 L294.00,272.95 L295.00,272.14 L296.00,271.20 L297.00,270.17 L298.00,269.04 L299.00,267.85 L300.00,266.61 L301.00,265.34 L302.00,264.06 L303.00,262.79 L304.00,261.55 L305.00,260.36 L306.00,259.23 L307.00,258.20 L308.00,257.26 L309.00,256.45 L310.00,255.76 L311.00,255.22 L312.00,254.82 L313.00,254.58 L314.00,254.50 L315.00,254.58 L316.00,254.82 L317.00,255.22 L318.00,255.76 L319.00,256.45 L320.00,257.26 L321.00,258.20 L322.00,259.23 L323.00,260.36 L324.00,261.55 L325.00,262.79 L326.00,264.06 L327.00,265.34 L328.00,266.61 L329.00,267.85 L330.00,269.04 L331.00,270.17 L332.00,271.20 L333.00,272.14 L334.00,272.95 L335.00,273.64 L336.00,274.18 L337.00,274.58 L338.00,274.82 L339.00,274.90" fill="none" stroke="#40a84c" stroke-width="1.4"/>
</g>
<rect x="136.7" y="253.4" width="61.80" height="23.00" fill="#efcbbd" opacity="0.85"/>
<text x="167.60" y="268.80" font-family="Liberation Sans, sans-serif" font-size="13.7" text-anchor="middle" font-weight="normal" fill="#5a4f4a">VvERF70</text>
<path d="M195.8,253 L195.8,239 L171.3,239" fill="none" stroke="#707070" stroke-width="0.9"/>
<path d="M168.3,239 L172.3,237.4 L172.3,240.6 Z" fill="#707070"/>
<path d="M127.00,292.30 L127.64,292.34 L128.27,292.44 L128.89,292.62 L129.50,292.86 L130.09,293.16 L130.67,293.51 L131.22,293.91 L131.74,294.34 L132.24,294.80 L132.71,295.27 L133.15,295.75 L133.57,296.23 L133.95,296.68 L134.31,297.12 L134.64,297.51 L134.94,297.86 L135.23,298.16 L135.51,298.39 L135.77,298.56 L136.02,298.67 L136.26,298.70 L136.51,298.66 L136.76,298.55 L137.02,298.37 L137.30,298.13 L137.59,297.82 L137.90,297.47 L138.23,297.07 L138.59,296.63 L138.98,296.17 L139.39,295.70 L139.84,295.22 L140.31,294.75 L140.81,294.29 L141.34,293.86 L141.89,293.47 L142.47,293.12 L143.07,292.83 L143.68,292.60 L144.30,292.43 L144.94,292.33 L145.57,292.30 L146.21,292.34 L146.84,292.46 L147.46,292.64 L148.07,292.89 L148.66,293.20 L149.23,293.55 L149.78,293.95 L150.30,294.39 L150.80,294.85 L151.26,295.33 L151.70,295.81 L152.11,296.28 L152.49,296.73 L152.84,297.16 L153.17,297.55 L153.48,297.90 L153.76,298.19 L154.04,298.42 L154.29,298.58 L154.54,298.68 L154.79,298.70 L155.04,298.65 L155.29,298.53 L155.55,298.35 L155.83,298.09 L156.12,297.79 L156.44,297.43 L156.77,297.02 L157.13,296.58 L157.52,296.12 L157.94,295.65 L158.39,295.17 L158.87,294.69 L159.37,294.24 L159.90,293.82 L160.46,293.43 L161.04,293.09 L161.63,292.80 L162.25,292.57 L162.87,292.41 L163.51,292.32 L164.14,292.30 L164.78,292.35 L165.41,292.48 L166.03,292.67 L166.64,292.92 L167.22,293.23 L167.79,293.60 L168.34,294.00 L168.86,294.44 L169.35,294.90 L169.81,295.38 L170.25,295.86 L170.65,296.33 L171.03,296.78 L171.38,297.21 L171.71,297.59 L172.01,297.93 L172.30,298.21 L172.56,298.44 L172.82,298.59 L173.07,298.68 L173.32,298.70 L173.57,298.64 L173.82,298.51 L174.08,298.32 L174.36,298.06 L174.66,297.75 L174.97,297.38 L175.31,296.97 L175.68,296.53 L176.07,296.07 L176.49,295.59 L176.94,295.11 L177.42,294.64 L177.93,294.19 L178.46,293.77 L179.02,293.39 L179.60,293.05 L180.20,292.77 L180.82,292.55 L181.44,292.40 L182.08,292.32 L182.71,292.30 L183.35,292.36 L183.98,292.49 L184.60,292.69 L185.20,292.95 L185.79,293.27 L186.36,293.64 L186.90,294.05 L187.42,294.49 L187.90,294.96 L188.36,295.43 L188.80,295.91 L189.20,296.38 L189.57,296.83 L189.92,297.25 L190.24,297.63 L190.54,297.97 L190.83,298.24 L191.09,298.46 L191.35,298.61 L191.60,298.69 L191.85,298.69 L192.10,298.63 L192.35,298.50 L192.61,298.29 L192.89,298.03 L193.19,297.71 L193.51,297.34 L193.85,296.93 L194.22,296.48 L194.62,296.02 L195.04,295.54 L195.49,295.06 L195.98,294.59 L196.49,294.14 L197.02,293.72 L197.59,293.35 L198.17,293.02 L198.77,292.74 L199.39,292.53 L200.01,292.39 L200.65,292.31 L201.29,292.31 L201.92,292.38 L202.55,292.51 L203.17,292.72 L203.77,292.99 L204.35,293.31 L204.92,293.68 L205.46,294.10 L205.97,294.54 L206.46,295.01 L206.91,295.49 L207.34,295.97 L207.74,296.43" fill="none" stroke="#e9b9a0" stroke-width="2.6" stroke-linecap="round" stroke-linejoin="round"/>
<ellipse cx="246" cy="340.5" rx="35.5" ry="11.6" fill="#d3e4ec"/>
<text x="246.00" y="345.43" font-family="Liberation Sans, sans-serif" font-size="13.7" text-anchor="middle" fill="#4a4a4a">VvbHLH30</text>
<rect x="282.7" y="332" width="62.20" height="16.30" fill="#f5d0cc" opacity="1.0"/>
<text x="313.80" y="345.08" font-family="Liberation Sans, sans-serif" font-size="13.7" text-anchor="middle" font-weight="normal" fill="#5a4f4a">VvERF70</text>
<g opacity="0.9">
<line x1="216.40" y1="366.22" x2="216.40" y2="351.05" stroke="#4d5190" stroke-width="0.9" opacity="0.55"/><line x1="221.60" y1="369.95" x2="221.60" y2="354.78" stroke="#40a84c" stroke-width="0.9" opacity="0.55"/><line x1="241.20" y1="354.99" x2="241.20" y2="370.02" stroke="#4d5190" stroke-width="0.9" opacity="0.55"/><line x1="246.40" y1="351.12" x2="246.40" y2="366.42" stroke="#40a84c" stroke-width="0.9" opacity="0.55"/><line x1="265.90" y1="365.70" x2="265.90" y2="350.88" stroke="#4d5190" stroke-width="0.9" opacity="0.55"/><line x1="271.10" y1="369.75" x2="271.10" y2="354.29" stroke="#40a84c" stroke-width="0.9" opacity="0.55"/><line x1="291.40" y1="354.78" x2="291.40" y2="369.95" stroke="#4d5190" stroke-width="0.9" opacity="0.55"/><line x1="296.60" y1="351.05" x2="296.60" y2="366.22" stroke="#40a84c" stroke-width="0.9" opacity="0.55"/><line x1="316.10" y1="365.91" x2="316.10" y2="350.94" stroke="#4d5190" stroke-width="0.9" opacity="0.55"/><line x1="321.30" y1="369.84" x2="321.30" y2="354.48" stroke="#40a84c" stroke-width="0.9" opacity="0.55"/>
<path d="M199.00,350.60 L200.00,350.68 L201.00,350.91 L202.00,351.30 L203.00,351.82 L204.00,352.49 L205.00,353.28 L206.00,354.19 L207.00,355.20 L208.00,356.28 L209.00,357.44 L210.00,358.64 L211.00,359.88 L212.00,361.12 L213.00,362.36 L214.00,363.56 L215.00,364.72 L216.00,365.80 L217.00,366.81 L218.00,367.72 L219.00,368.51 L220.00,369.18 L221.00,369.70 L222.00,370.09 L223.00,370.32 L224.00,370.40 L225.00,370.32 L226.00,370.09 L227.00,369.70 L228.00,369.18 L229.00,368.51 L230.00,367.72 L231.00,366.81 L232.00,365.80 L233.00,364.72 L234.00,363.56 L235.00,362.36 L236.00,361.12 L237.00,359.88 L238.00,358.64 L239.00,357.44 L240.00,356.28 L241.00,355.20 L242.00,354.19 L243.00,353.28 L244.00,352.49 L245.00,351.82 L246.00,351.30 L247.00,350.91 L248.00,350.68 L249.00,350.60 L250.00,350.68 L251.00,350.91 L252.00,351.30 L253.00,351.82 L254.00,352.49 L255.00,353.28 L256.00,354.19 L257.00,355.20 L258.00,356.28 L259.00,357.44 L260.00,358.64 L261.00,359.88 L262.00,361.12 L263.00,362.36 L264.00,363.56 L265.00,364.72 L266.00,365.80 L267.00,366.81 L268.00,367.72 L269.00,368.51 L270.00,369.18 L271.00,369.70 L272.00,370.09 L273.00,370.32 L274.00,370.40 L275.00,370.32 L276.00,370.09 L277.00,369.70 L278.00,369.18 L279.00,368.51 L280.00,367.72 L281.00,366.81 L282.00,365.80 L283.00,364.72 L284.00,363.56 L285.00,362.36 L286.00,361.12 L287.00,359.88 L288.00,358.64 L289.00,357.44 L290.00,356.28 L291.00,355.20 L292.00,354.19 L293.00,353.28 L294.00,352.49 L295.00,351.82 L296.00,351.30 L297.00,350.91 L298.00,350.68 L299.00,350.60 L300.00,350.68 L301.00,350.91 L302.00,351.30 L303.00,351.82 L304.00,352.49 L305.00,353.28 L306.00,354.19 L307.00,355.20 L308.00,356.28 L309.00,357.44 L310.00,358.64 L311.00,359.88 L312.00,361.12 L313.00,362.36 L314.00,363.56 L315.00,364.72 L316.00,365.80 L317.00,366.81 L318.00,367.72 L319.00,368.51 L320.00,369.18 L321.00,369.70 L322.00,370.09 L323.00,370.32 L324.00,370.40 L325.00,370.32 L326.00,370.09 L327.00,369.70 L328.00,369.18 L329.00,368.51 L330.00,367.72 L331.00,366.81 L332.00,365.80 L333.00,364.72 L334.00,363.56 L335.00,362.36 L336.00,361.12 L337.00,359.88 L338.00,358.64 L339.00,357.44 L340.00,356.28 L341.00,355.20 L342.00,354.19 L343.00,353.28 L344.00,352.49 L345.00,351.82 L346.00,351.30 L347.00,350.91 L348.00,350.68 L349.00,350.60" fill="none" stroke="#4d5190" stroke-width="1.3"/>
<path d="M189.00,370.40 L190.00,370.32 L191.00,370.09 L192.00,369.70 L193.00,369.18 L194.00,368.51 L195.00,367.72 L196.00,366.81 L197.00,365.80 L198.00,364.72 L199.00,363.56 L200.00,362.36 L201.00,361.12 L202.00,359.88 L203.00,358.64 L204.00,357.44 L205.00,356.28 L206.00,355.20 L207.00,354.19 L208.00,353.28 L209.00,352.49 L210.00,351.82 L211.00,351.30 L212.00,350.91 L213.00,350.68 L214.00,350.60 L215.00,350.68 L216.00,350.91 L217.00,351.30 L218.00,351.82 L219.00,352.49 L220.00,353.28 L221.00,354.19 L222.00,355.20 L223.00,356.28 L224.00,357.44 L225.00,358.64 L226.00,359.88 L227.00,361.12 L228.00,362.36 L229.00,363.56 L230.00,364.72 L231.00,365.80 L232.00,366.81 L233.00,367.72 L234.00,368.51 L235.00,369.18 L236.00,369.70 L237.00,370.09 L238.00,370.32 L239.00,370.40 L240.00,370.32 L241.00,370.09 L242.00,369.70 L243.00,369.18 L244.00,368.51 L245.00,367.72 L246.00,366.81 L247.00,365.80 L248.00,364.72 L249.00,363.56 L250.00,362.36 L251.00,361.12 L252.00,359.88 L253.00,358.64 L254.00,357.44 L255.00,356.28 L256.00,355.20 L257.00,354.19 L258.00,353.28 L259.00,352.49 L260.00,351.82 L261.00,351.30 L262.00,350.91 L263.00,350.68 L264.00,350.60 L265.00,350.68 L266.00,350.91 L267.00,351.30 L268.00,351.82 L269.00,352.49 L270.00,353.28 L271.00,354.19 L272.00,355.20 L273.00,356.28 L274.00,357.44 L275.00,358.64 L276.00,359.88 L277.00,361.12 L278.00,362.36 L279.00,363.56 L280.00,364.72 L281.00,365.80 L282.00,366.81 L283.00,367.72 L284.00,368.51 L285.00,369.18 L286.00,369.70 L287.00,370.09 L288.00,370.32 L289.00,370.40 L290.00,370.32 L291.00,370.09 L292.00,369.70 L293.00,369.18 L294.00,368.51 L295.00,367.72 L296.00,366.81 L297.00,365.80 L298.00,364.72 L299.00,363.56 L300.00,362.36 L301.00,361.12 L302.00,359.88 L303.00,358.64 L304.00,357.44 L305.00,356.28 L306.00,355.20 L307.00,354.19 L308.00,353.28 L309.00,352.49 L310.00,351.82 L311.00,351.30 L312.00,350.91 L313.00,350.68 L314.00,350.60 L315.00,350.68 L316.00,350.91 L317.00,351.30 L318.00,351.82 L319.00,352.49 L320.00,353.28 L321.00,354.19 L322.00,355.20 L323.00,356.28 L324.00,357.44 L325.00,358.64 L326.00,359.88 L327.00,361.12 L328.00,362.36 L329.00,363.56 L330.00,364.72 L331.00,365.80 L332.00,366.81 L333.00,367.72 L334.00,368.51 L335.00,369.18 L336.00,369.70 L337.00,370.09 L338.00,370.32 L339.00,370.40" fill="none" stroke="#40a84c" stroke-width="1.4"/>
</g>
<rect x="141" y="349.5" width="54.60" height="23.40" fill="#cbbfdc" opacity="0.9"/>
<text x="168.30" y="366.13" font-family="Liberation Sans, sans-serif" font-size="13.7" text-anchor="middle" font-weight="normal" fill="#4a4a4a">VvACS2</text>
<path d="M195.5,349.5 L195.5,335 L170.7,335" fill="none" stroke="#707070" stroke-width="0.9"/>
<path d="M167.7,335 L171.7,333.4 L171.7,336.6 Z" fill="#707070"/>
<path d="M127.00,384.10 L127.64,384.14 L128.27,384.24 L128.89,384.42 L129.50,384.66 L130.09,384.96 L130.67,385.31 L131.22,385.71 L131.74,386.14 L132.24,386.60 L132.71,387.07 L133.15,387.55 L133.57,388.03 L133.95,388.48 L134.31,388.92 L134.64,389.31 L134.94,389.66 L135.23,389.96 L135.51,390.19 L135.77,390.36 L136.02,390.47 L136.26,390.50 L136.51,390.46 L136.76,390.35 L137.02,390.17 L137.30,389.93 L137.59,389.62 L137.90,389.27 L138.23,388.87 L138.59,388.43 L138.98,387.97 L139.39,387.50 L139.84,387.02 L140.31,386.55 L140.81,386.09 L141.34,385.66 L141.89,385.27 L142.47,384.92 L143.07,384.63 L143.68,384.40 L144.30,384.23 L144.94,384.13 L145.57,384.10 L146.21,384.14 L146.84,384.26 L147.46,384.44 L148.07,384.69 L148.66,385.00 L149.23,385.35 L149.78,385.75 L150.30,386.19 L150.80,386.65 L151.26,387.13 L151.70,387.61 L152.11,388.08 L152.49,388.53 L152.84,388.96 L153.17,389.35 L153.48,389.70 L153.76,389.99 L154.04,390.22 L154.29,390.38 L154.54,390.48 L154.79,390.50 L155.04,390.45 L155.29,390.33 L155.55,390.15 L155.83,389.89 L156.12,389.59 L156.44,389.23 L156.77,388.82 L157.13,388.38 L157.52,387.92 L157.94,387.45 L158.39,386.97 L158.87,386.49 L159.37,386.04 L159.90,385.62 L160.46,385.23 L161.04,384.89 L161.63,384.60 L162.25,384.37 L162.87,384.21 L163.51,384.12 L164.14,384.10 L164.78,384.15 L165.41,384.28 L166.03,384.47 L166.64,384.72 L167.22,385.03 L167.79,385.40 L168.34,385.80 L168.86,386.24 L169.35,386.70 L169.81,387.18 L170.25,387.66 L170.65,388.13 L171.03,388.58 L171.38,389.01 L171.71,389.39 L172.01,389.73 L172.30,390.01 L172.56,390.24 L172.82,390.39 L173.07,390.48 L173.32,390.50 L173.57,390.44 L173.82,390.31 L174.08,390.12 L174.36,389.86 L174.66,389.55 L174.97,389.18 L175.31,388.77 L175.68,388.33 L176.07,387.87 L176.49,387.39 L176.94,386.91 L177.42,386.44 L177.93,385.99 L178.46,385.57 L179.02,385.19 L179.60,384.85 L180.20,384.57 L180.82,384.35 L181.44,384.20 L182.08,384.12 L182.71,384.10 L183.35,384.16 L183.98,384.29 L184.60,384.49 L185.20,384.75 L185.79,385.07 L186.36,385.44 L186.90,385.85 L187.42,386.29 L187.90,386.76 L188.36,387.23 L188.80,387.71 L189.20,388.18 L189.57,388.63 L189.92,389.05 L190.24,389.43 L190.54,389.77 L190.83,390.04 L191.09,390.26 L191.35,390.41 L191.60,390.49 L191.85,390.49 L192.10,390.43 L192.35,390.30 L192.61,390.09 L192.89,389.83 L193.19,389.51 L193.51,389.14 L193.85,388.73 L194.22,388.28 L194.62,387.82 L195.04,387.34 L195.49,386.86 L195.98,386.39 L196.49,385.94 L197.02,385.52 L197.59,385.15 L198.17,384.82 L198.77,384.54 L199.39,384.33 L200.01,384.19 L200.65,384.11 L201.29,384.11 L201.92,384.18 L202.55,384.31 L203.17,384.52 L203.77,384.79 L204.35,385.11 L204.92,385.48 L205.46,385.90 L205.97,386.34 L206.46,386.81 L206.91,387.29 L207.34,387.77 L207.74,388.23" fill="none" stroke="#ccc4d7" stroke-width="2.6" stroke-linecap="round" stroke-linejoin="round"/>
<ellipse cx="436" cy="178.5" rx="36.5" ry="11" fill="#bfe0f3"/>
<text x="436.00" y="183.47" font-family="Liberation Sans, sans-serif" font-size="13.8" text-anchor="middle" fill="#000">VvbHLH30</text>
<rect x="490" y="184.2" width="62.40" height="16.60" fill="#f7cdcc" opacity="1.0"/>
<text x="521.20" y="197.47" font-family="Liberation Sans, sans-serif" font-size="13.8" text-anchor="middle" font-weight="normal" fill="#000">VvERF70</text>
<rect x="417.1" y="217" width="62.40" height="17.40" fill="#f7cdcc" opacity="1.0"/>
<text x="448.30" y="230.67" font-family="Liberation Sans, sans-serif" font-size="13.8" text-anchor="middle" font-weight="normal" fill="#000">VvERF70</text>
<ellipse cx="567.7" cy="221.3" rx="37" ry="11" fill="#bfe0f3"/>
<text x="567.70" y="226.27" font-family="Liberation Sans, sans-serif" font-size="13.8" text-anchor="middle" fill="#000">VvbHLH30</text>
<ellipse cx="457.2" cy="264.8" rx="37" ry="11.2" fill="#bfe0f3"/>
<text x="457.20" y="269.73" font-family="Liberation Sans, sans-serif" font-size="13.7" text-anchor="middle" fill="#000">VvbHLH30</text>
<g opacity="1.0">
<line x1="520.10" y1="288.48" x2="520.10" y2="273.15" stroke="#4d5190" stroke-width="0.9" opacity="0.55"/><line x1="514.90" y1="292.25" x2="514.90" y2="276.92" stroke="#40a84c" stroke-width="0.9" opacity="0.55"/><line x1="495.30" y1="277.13" x2="495.30" y2="292.32" stroke="#4d5190" stroke-width="0.9" opacity="0.55"/><line x1="490.10" y1="273.23" x2="490.10" y2="288.68" stroke="#40a84c" stroke-width="0.9" opacity="0.55"/><line x1="470.60" y1="287.95" x2="470.60" y2="272.98" stroke="#4d5190" stroke-width="0.9" opacity="0.55"/><line x1="465.40" y1="292.04" x2="465.40" y2="276.42" stroke="#40a84c" stroke-width="0.9" opacity="0.55"/><line x1="445.10" y1="276.92" x2="445.10" y2="292.25" stroke="#4d5190" stroke-width="0.9" opacity="0.55"/><line x1="439.90" y1="273.15" x2="439.90" y2="288.48" stroke="#40a84c" stroke-width="0.9" opacity="0.55"/><line x1="420.40" y1="288.16" x2="420.40" y2="273.05" stroke="#4d5190" stroke-width="0.9" opacity="0.55"/><line x1="415.20" y1="292.13" x2="415.20" y2="276.62" stroke="#40a84c" stroke-width="0.9" opacity="0.55"/>
<line x1="415.2" y1="280.70" x2="415.2" y2="300.20" stroke="#4d5190" stroke-width="1" opacity="0.85"/>
<line x1="421.0" y1="278.70" x2="421.0" y2="296.20" stroke="#40a84c" stroke-width="1" opacity="0.6"/>
<path d="M387.00,272.72 L388.00,272.72 L389.00,272.88 L390.00,273.19 L391.00,273.65 L392.00,274.26 L393.00,274.99 L394.00,275.85 L395.00,276.82 L396.00,277.88 L397.00,279.02 L398.00,280.21 L399.00,281.45 L400.00,282.70 L401.00,283.95 L402.00,285.19 L403.00,286.38 L404.00,287.52 L405.00,288.58 L406.00,289.55 L407.00,290.41 L408.00,291.14 L409.00,291.75 L410.00,292.21 L411.00,292.52 L412.00,292.68 L413.00,292.68 L414.00,292.52 L415.00,292.21 L416.00,291.75 L417.00,291.14 L418.00,290.41 L419.00,289.55 L420.00,288.58 L421.00,287.52 L422.00,286.38 L423.00,285.19 L424.00,283.95 L425.00,282.70 L426.00,281.45 L427.00,280.21 L428.00,279.02 L429.00,277.88 L430.00,276.82 L431.00,275.85 L432.00,274.99 L433.00,274.26 L434.00,273.65 L435.00,273.19 L436.00,272.88 L437.00,272.72 L438.00,272.72 L439.00,272.88 L440.00,273.19 L441.00,273.65 L442.00,274.26 L443.00,274.99 L444.00,275.85 L445.00,276.82 L446.00,277.88 L447.00,279.02 L448.00,280.21 L449.00,281.45 L450.00,282.70 L451.00,283.95 L452.00,285.19 L453.00,286.38 L454.00,287.52 L455.00,288.58 L456.00,289.55 L457.00,290.41 L458.00,291.14 L459.00,291.75 L460.00,292.21 L461.00,292.52 L462.00,292.68 L463.00,292.68 L464.00,292.52 L465.00,292.21 L466.00,291.75 L467.00,291.14 L468.00,290.41 L469.00,289.55 L470.00,288.58 L471.00,287.52 L472.00,286.38 L473.00,285.19 L474.00,283.95 L475.00,282.70 L476.00,281.45 L477.00,280.21 L478.00,279.02 L479.00,277.88 L480.00,276.82 L481.00,275.85 L482.00,274.99 L483.00,274.26 L484.00,273.65 L485.00,273.19 L486.00,272.88 L487.00,272.72 L488.00,272.72 L489.00,272.88 L490.00,273.19 L491.00,273.65 L492.00,274.26 L493.00,274.99 L494.00,275.85 L495.00,276.82 L496.00,277.88 L497.00,279.02 L498.00,280.21 L499.00,281.45 L500.00,282.70 L501.00,283.95 L502.00,285.19 L503.00,286.38 L504.00,287.52 L505.00,288.58 L506.00,289.55 L507.00,290.41 L508.00,291.14 L509.00,291.75 L510.00,292.21 L511.00,292.52 L512.00,292.68 L513.00,292.68 L514.00,292.52 L515.00,292.21 L516.00,291.75 L517.00,291.14 L518.00,290.41 L519.00,289.55 L520.00,288.58 L521.00,287.52 L522.00,286.38 L523.00,285.19 L524.00,283.95 L525.00,282.70 L526.00,281.45 L527.00,280.21 L528.00,279.02 L529.00,277.88 L530.00,276.82 L531.00,275.85 L532.00,274.99 L533.00,274.26 L534.00,273.65 L535.00,273.19 L536.00,272.88 L537.00,272.72" fill="none" stroke="#4d5190" stroke-width="1.3"/>
<path d="M397.00,292.68 L398.00,292.68 L399.00,292.52 L400.00,292.21 L401.00,291.75 L402.00,291.14 L403.00,290.41 L404.00,289.55 L405.00,288.58 L406.00,287.52 L407.00,286.38 L408.00,285.19 L409.00,283.95 L410.00,282.70 L411.00,281.45 L412.00,280.21 L413.00,279.02 L414.00,277.88 L415.00,276.82 L416.00,275.85 L417.00,274.99 L418.00,274.26 L419.00,273.65 L420.00,273.19 L421.00,272.88 L422.00,272.72 L423.00,272.72 L424.00,272.88 L425.00,273.19 L426.00,273.65 L427.00,274.26 L428.00,274.99 L429.00,275.85 L430.00,276.82 L431.00,277.88 L432.00,279.02 L433.00,280.21 L434.00,281.45 L435.00,282.70 L436.00,283.95 L437.00,285.19 L438.00,286.38 L439.00,287.52 L440.00,288.58 L441.00,289.55 L442.00,290.41 L443.00,291.14 L444.00,291.75 L445.00,292.21 L446.00,292.52 L447.00,292.68 L448.00,292.68 L449.00,292.52 L450.00,292.21 L451.00,291.75 L452.00,291.14 L453.00,290.41 L454.00,289.55 L455.00,288.58 L456.00,287.52 L457.00,286.38 L458.00,285.19 L459.00,283.95 L460.00,282.70 L461.00,281.45 L462.00,280.21 L463.00,279.02 L464.00,277.88 L465.00,276.82 L466.00,275.85 L467.00,274.99 L468.00,274.26 L469.00,273.65 L470.00,273.19 L471.00,272.88 L472.00,272.72 L473.00,272.72 L474.00,272.88 L475.00,273.19 L476.00,273.65 L477.00,274.26 L478.00,274.99 L479.00,275.85 L480.00,276.82 L481.00,277.88 L482.00,279.02 L483.00,280.21 L484.00,281.45 L485.00,282.70 L486.00,283.95 L487.00,285.19 L488.00,286.38 L489.00,287.52 L490.00,288.58 L491.00,289.55 L492.00,290.41 L493.00,291.14 L494.00,291.75 L495.00,292.21 L496.00,292.52 L497.00,292.68 L498.00,292.68 L499.00,292.52 L500.00,292.21 L501.00,291.75 L502.00,291.14 L503.00,290.41 L504.00,289.55 L505.00,288.58 L506.00,287.52 L507.00,286.38 L508.00,285.19 L509.00,283.95 L510.00,282.70 L511.00,281.45 L512.00,280.21 L513.00,279.02 L514.00,277.88 L515.00,276.82 L516.00,275.85 L517.00,274.99 L518.00,274.26 L519.00,273.65 L520.00,273.19 L521.00,272.88 L522.00,272.72 L523.00,272.72 L524.00,272.88 L525.00,273.19 L526.00,273.65 L527.00,274.26 L528.00,274.99 L529.00,275.85 L530.00,276.82 L531.00,277.88 L532.00,279.02 L533.00,280.21 L534.00,281.45 L535.00,282.70 L536.00,283.95 L537.00,285.19 L538.00,286.38 L539.00,287.52 L540.00,288.58 L541.00,289.55 L542.00,290.41 L543.00,291.14 L544.00,291.75 L545.00,292.21 L546.00,292.52 L547.00,292.68" fill="none" stroke="#40a84c" stroke-width="1.4"/>
</g>
<rect x="538.4" y="271.9" width="61.00" height="22.70" fill="#f2c3ad" opacity="1.0"/>
<text x="568.90" y="287.40" font-family="Liberation Sans, sans-serif" font-size="13.5" text-anchor="middle" font-weight="bold" fill="#000">VvERF70</text>
<path d="M540.6,272 L540.6,257.5 L560.6,257.5" fill="none" stroke="#111" stroke-width="2.0"/>
<path d="M568.6,257.5 L559.1,253.3 L559.1,261.7 Z" fill="#111"/>
<path d="M586.60,301.80 L587.24,301.84 L587.87,301.94 L588.49,302.12 L589.10,302.36 L589.69,302.66 L590.27,303.01 L590.82,303.41 L591.34,303.84 L591.84,304.30 L592.31,304.77 L592.75,305.25 L593.17,305.73 L593.55,306.18 L593.91,306.62 L594.24,307.01 L594.54,307.36 L594.83,307.66 L595.11,307.89 L595.37,308.06 L595.62,308.17 L595.86,308.20 L596.11,308.16 L596.36,308.05 L596.62,307.87 L596.90,307.63 L597.19,307.32 L597.50,306.97 L597.83,306.57 L598.19,306.13 L598.58,305.67 L598.99,305.20 L599.44,304.72 L599.91,304.25 L600.41,303.79 L600.94,303.36 L601.49,302.97 L602.07,302.62 L602.67,302.33 L603.28,302.10 L603.90,301.93 L604.54,301.83 L605.17,301.80 L605.81,301.84 L606.44,301.96 L607.06,302.14 L607.67,302.39 L608.26,302.70 L608.83,303.05 L609.38,303.45 L609.90,303.89 L610.40,304.35 L610.86,304.83 L611.30,305.31 L611.71,305.78 L612.09,306.23 L612.44,306.66 L612.77,307.05 L613.08,307.40 L613.36,307.69 L613.64,307.92 L613.89,308.08 L614.14,308.18 L614.39,308.20 L614.64,308.15 L614.89,308.03 L615.15,307.85 L615.43,307.59 L615.72,307.29 L616.04,306.93 L616.37,306.52 L616.73,306.08 L617.12,305.62 L617.54,305.15 L617.99,304.67 L618.47,304.19 L618.97,303.74 L619.50,303.32 L620.06,302.93 L620.64,302.59 L621.23,302.30 L621.85,302.07 L622.47,301.91 L623.11,301.82 L623.74,301.80 L624.38,301.85 L625.01,301.98 L625.63,302.17 L626.24,302.42 L626.82,302.73 L627.39,303.10 L627.94,303.50 L628.46,303.94 L628.95,304.40 L629.41,304.88 L629.85,305.36 L630.25,305.83 L630.63,306.28 L630.98,306.71 L631.31,307.09 L631.61,307.43 L631.90,307.71 L632.16,307.94 L632.42,308.09 L632.67,308.18 L632.92,308.20 L633.17,308.14 L633.42,308.01 L633.68,307.82 L633.96,307.56 L634.26,307.25 L634.57,306.88 L634.91,306.47 L635.28,306.03 L635.67,305.57 L636.09,305.09 L636.54,304.61 L637.02,304.14 L637.53,303.69 L638.06,303.27 L638.62,302.89 L639.20,302.55 L639.80,302.27 L640.42,302.05 L641.04,301.90 L641.68,301.82 L642.31,301.80 L642.95,301.86 L643.58,301.99 L644.20,302.19 L644.80,302.45 L645.39,302.77 L645.96,303.14 L646.50,303.55 L647.02,303.99 L647.50,304.46 L647.96,304.93 L648.40,305.41 L648.80,305.88 L649.17,306.33 L649.52,306.75 L649.84,307.13 L650.14,307.47 L650.43,307.74 L650.69,307.96 L650.95,308.11 L651.20,308.19 L651.45,308.19 L651.70,308.13 L651.95,308.00 L652.21,307.79 L652.49,307.53 L652.79,307.21 L653.11,306.84 L653.45,306.43 L653.82,305.98 L654.22,305.52 L654.64,305.04 L655.09,304.56 L655.58,304.09 L656.09,303.64 L656.62,303.22 L657.19,302.85 L657.77,302.52 L658.37,302.24 L658.99,302.03 L659.61,301.89 L660.25,301.81 L660.89,301.81 L661.52,301.88 L662.15,302.01 L662.77,302.22 L663.37,302.49 L663.95,302.81 L664.52,303.18 L665.06,303.60 L665.57,304.04 L666.06,304.51 L666.51,304.99 L666.94,305.47 L667.34,305.93 L667.71,306.38 L668.06,306.80 L668.38,307.17" fill="none" stroke="#e9b9a0" stroke-width="2.6" stroke-linecap="round" stroke-linejoin="round"/>
<path d="M568.50,312.20 L569.14,312.24 L569.77,312.34 L570.39,312.52 L571.00,312.76 L571.59,313.06 L572.17,313.41 L572.72,313.81 L573.24,314.24 L573.74,314.70 L574.21,315.17 L574.65,315.65 L575.07,316.13 L575.45,316.58 L575.81,317.02 L576.14,317.41 L576.44,317.76 L576.73,318.06 L577.01,318.29 L577.27,318.46 L577.52,318.57 L577.76,318.60 L578.01,318.56 L578.26,318.45 L578.52,318.27 L578.80,318.03 L579.09,317.72 L579.40,317.37 L579.73,316.97 L580.09,316.53 L580.48,316.07 L580.89,315.60 L581.34,315.12 L581.81,314.65 L582.31,314.19 L582.84,313.76 L583.39,313.37 L583.97,313.02 L584.57,312.73 L585.18,312.50 L585.80,312.33 L586.44,312.23 L587.07,312.20 L587.71,312.24 L588.34,312.36 L588.96,312.54 L589.57,312.79 L590.16,313.10 L590.73,313.45 L591.28,313.85 L591.80,314.29 L592.30,314.75 L592.76,315.23 L593.20,315.71 L593.61,316.18 L593.99,316.63 L594.34,317.06 L594.67,317.45 L594.98,317.80 L595.26,318.09 L595.54,318.32 L595.79,318.48 L596.04,318.58 L596.29,318.60 L596.54,318.55 L596.79,318.43 L597.05,318.25 L597.33,317.99 L597.62,317.69 L597.94,317.33 L598.27,316.92 L598.63,316.48 L599.02,316.02 L599.44,315.55 L599.89,315.07 L600.37,314.59 L600.87,314.14 L601.40,313.72 L601.96,313.33 L602.54,312.99 L603.13,312.70 L603.75,312.47 L604.37,312.31 L605.01,312.22 L605.64,312.20 L606.28,312.25 L606.91,312.38 L607.53,312.57 L608.14,312.82 L608.72,313.13 L609.29,313.50 L609.84,313.90 L610.36,314.34 L610.85,314.80 L611.31,315.28 L611.75,315.76 L612.15,316.23 L612.53,316.68 L612.88,317.11 L613.21,317.49 L613.51,317.83 L613.80,318.11 L614.06,318.34 L614.32,318.49 L614.57,318.58 L614.82,318.60 L615.07,318.54 L615.32,318.41 L615.58,318.22 L615.86,317.96 L616.16,317.65 L616.47,317.28 L616.81,316.87 L617.18,316.43 L617.57,315.97 L617.99,315.49 L618.44,315.01 L618.92,314.54 L619.43,314.09 L619.96,313.67 L620.52,313.29 L621.10,312.95 L621.70,312.67 L622.32,312.45 L622.94,312.30 L623.58,312.22 L624.21,312.20 L624.85,312.26 L625.48,312.39 L626.10,312.59 L626.70,312.85 L627.29,313.17 L627.86,313.54 L628.40,313.95 L628.92,314.39 L629.40,314.86 L629.86,315.33 L630.30,315.81 L630.70,316.28 L631.07,316.73 L631.42,317.15 L631.74,317.53 L632.04,317.87 L632.33,318.14 L632.59,318.36 L632.85,318.51 L633.10,318.59 L633.35,318.59 L633.60,318.53 L633.85,318.40 L634.11,318.19 L634.39,317.93 L634.69,317.61 L635.01,317.24 L635.35,316.83 L635.72,316.38 L636.12,315.92 L636.54,315.44 L636.99,314.96 L637.48,314.49 L637.99,314.04 L638.52,313.62 L639.09,313.25 L639.67,312.92 L640.27,312.64 L640.89,312.43 L641.51,312.29 L642.15,312.21 L642.79,312.21 L643.42,312.28 L644.05,312.41 L644.67,312.62 L645.27,312.89 L645.85,313.21 L646.42,313.58 L646.96,314.00 L647.47,314.44 L647.96,314.91 L648.41,315.39 L648.84,315.87 L649.24,316.33 L649.61,316.78 L649.96,317.20 L650.28,317.57" fill="none" stroke="#e9b9a0" stroke-width="2.6" stroke-linecap="round" stroke-linejoin="round"/>
<path d="M549.00,322.00 L549.64,322.04 L550.27,322.14 L550.89,322.32 L551.50,322.56 L552.09,322.86 L552.67,323.21 L553.22,323.61 L553.74,324.04 L554.24,324.50 L554.71,324.97 L555.15,325.45 L555.57,325.93 L555.95,326.38 L556.31,326.82 L556.64,327.21 L556.94,327.56 L557.23,327.86 L557.51,328.09 L557.77,328.26 L558.02,328.37 L558.26,328.40 L558.51,328.36 L558.76,328.25 L559.02,328.07 L559.30,327.83 L559.59,327.52 L559.90,327.17 L560.23,326.77 L560.59,326.33 L560.98,325.87 L561.39,325.40 L561.84,324.92 L562.31,324.45 L562.81,323.99 L563.34,323.56 L563.89,323.17 L564.47,322.82 L565.07,322.53 L565.68,322.30 L566.30,322.13 L566.94,322.03 L567.57,322.00 L568.21,322.04 L568.84,322.16 L569.46,322.34 L570.07,322.59 L570.66,322.90 L571.23,323.25 L571.78,323.65 L572.30,324.09 L572.80,324.55 L573.26,325.03 L573.70,325.51 L574.11,325.98 L574.49,326.43 L574.84,326.86 L575.17,327.25 L575.48,327.60 L575.76,327.89 L576.04,328.12 L576.29,328.28 L576.54,328.38 L576.79,328.40 L577.04,328.35 L577.29,328.23 L577.55,328.05 L577.83,327.79 L578.12,327.49 L578.44,327.13 L578.77,326.72 L579.13,326.28 L579.52,325.82 L579.94,325.35 L580.39,324.87 L580.87,324.39 L581.37,323.94 L581.90,323.52 L582.46,323.13 L583.04,322.79 L583.63,322.50 L584.25,322.27 L584.87,322.11 L585.51,322.02 L586.14,322.00 L586.78,322.05 L587.41,322.18 L588.03,322.37 L588.64,322.62 L589.22,322.93 L589.79,323.30 L590.34,323.70 L590.86,324.14 L591.35,324.60 L591.81,325.08 L592.25,325.56 L592.65,326.03 L593.03,326.48 L593.38,326.91 L593.71,327.29 L594.01,327.63 L594.30,327.91 L594.56,328.14 L594.82,328.29 L595.07,328.38 L595.32,328.40 L595.57,328.34 L595.82,328.21 L596.08,328.02 L596.36,327.76 L596.66,327.45 L596.97,327.08 L597.31,326.67 L597.68,326.23 L598.07,325.77 L598.49,325.29 L598.94,324.81 L599.42,324.34 L599.93,323.89 L600.46,323.47 L601.02,323.09 L601.60,322.75 L602.20,322.47 L602.82,322.25 L603.44,322.10 L604.08,322.02 L604.71,322.00 L605.35,322.06 L605.98,322.19 L606.60,322.39 L607.20,322.65 L607.79,322.97 L608.36,323.34 L608.90,323.75 L609.42,324.19 L609.90,324.66 L610.36,325.13 L610.80,325.61 L611.20,326.08 L611.57,326.53 L611.92,326.95 L612.24,327.33 L612.54,327.67 L612.83,327.94 L613.09,328.16 L613.35,328.31 L613.60,328.39 L613.85,328.39 L614.10,328.33 L614.35,328.20 L614.61,327.99 L614.89,327.73 L615.19,327.41 L615.51,327.04 L615.85,326.63 L616.22,326.18 L616.62,325.72 L617.04,325.24 L617.49,324.76 L617.98,324.29 L618.49,323.84 L619.02,323.42 L619.59,323.05 L620.17,322.72 L620.77,322.44 L621.39,322.23 L622.01,322.09 L622.65,322.01 L623.29,322.01 L623.92,322.08 L624.55,322.21 L625.17,322.42 L625.77,322.69 L626.35,323.01 L626.92,323.38 L627.46,323.80 L627.97,324.24 L628.46,324.71 L628.91,325.19 L629.34,325.67 L629.74,326.13 L630.11,326.58 L630.46,327.00 L630.78,327.37" fill="none" stroke="#e9b9a0" stroke-width="2.6" stroke-linecap="round" stroke-linejoin="round"/>
<ellipse cx="427.8" cy="340.4" rx="36.1" ry="10.8" fill="#bfe0f3"/>
<text x="427.80" y="345.31" font-family="Liberation Sans, sans-serif" font-size="13.65" text-anchor="middle" fill="#000">VvbHLH30</text>
<rect x="463" y="332.7" width="62.70" height="15.20" fill="#f7cdcc" opacity="1.0"/>
<text x="494.20" y="345.21" font-family="Liberation Sans, sans-serif" font-size="13.65" text-anchor="middle" font-weight="normal" fill="#000">VvERF70</text>
<g opacity="1.0">
<line x1="520.10" y1="366.38" x2="520.10" y2="351.05" stroke="#4d5190" stroke-width="0.9" opacity="0.55"/><line x1="514.90" y1="370.15" x2="514.90" y2="354.82" stroke="#40a84c" stroke-width="0.9" opacity="0.55"/><line x1="495.30" y1="355.03" x2="495.30" y2="370.22" stroke="#4d5190" stroke-width="0.9" opacity="0.55"/><line x1="490.10" y1="351.13" x2="490.10" y2="366.58" stroke="#40a84c" stroke-width="0.9" opacity="0.55"/><line x1="470.60" y1="365.85" x2="470.60" y2="350.88" stroke="#4d5190" stroke-width="0.9" opacity="0.55"/><line x1="465.40" y1="369.94" x2="465.40" y2="354.32" stroke="#40a84c" stroke-width="0.9" opacity="0.55"/><line x1="445.10" y1="354.82" x2="445.10" y2="370.15" stroke="#4d5190" stroke-width="0.9" opacity="0.55"/><line x1="439.90" y1="351.05" x2="439.90" y2="366.38" stroke="#40a84c" stroke-width="0.9" opacity="0.55"/><line x1="420.40" y1="366.06" x2="420.40" y2="350.95" stroke="#4d5190" stroke-width="0.9" opacity="0.55"/><line x1="415.20" y1="370.03" x2="415.20" y2="354.52" stroke="#40a84c" stroke-width="0.9" opacity="0.55"/>
<path d="M387.00,350.62 L388.00,350.62 L389.00,350.78 L390.00,351.09 L391.00,351.55 L392.00,352.16 L393.00,352.89 L394.00,353.75 L395.00,354.72 L396.00,355.78 L397.00,356.92 L398.00,358.11 L399.00,359.35 L400.00,360.60 L401.00,361.85 L402.00,363.09 L403.00,364.28 L404.00,365.42 L405.00,366.48 L406.00,367.45 L407.00,368.31 L408.00,369.04 L409.00,369.65 L410.00,370.11 L411.00,370.42 L412.00,370.58 L413.00,370.58 L414.00,370.42 L415.00,370.11 L416.00,369.65 L417.00,369.04 L418.00,368.31 L419.00,367.45 L420.00,366.48 L421.00,365.42 L422.00,364.28 L423.00,363.09 L424.00,361.85 L425.00,360.60 L426.00,359.35 L427.00,358.11 L428.00,356.92 L429.00,355.78 L430.00,354.72 L431.00,353.75 L432.00,352.89 L433.00,352.16 L434.00,351.55 L435.00,351.09 L436.00,350.78 L437.00,350.62 L438.00,350.62 L439.00,350.78 L440.00,351.09 L441.00,351.55 L442.00,352.16 L443.00,352.89 L444.00,353.75 L445.00,354.72 L446.00,355.78 L447.00,356.92 L448.00,358.11 L449.00,359.35 L450.00,360.60 L451.00,361.85 L452.00,363.09 L453.00,364.28 L454.00,365.42 L455.00,366.48 L456.00,367.45 L457.00,368.31 L458.00,369.04 L459.00,369.65 L460.00,370.11 L461.00,370.42 L462.00,370.58 L463.00,370.58 L464.00,370.42 L465.00,370.11 L466.00,369.65 L467.00,369.04 L468.00,368.31 L469.00,367.45 L470.00,366.48 L471.00,365.42 L472.00,364.28 L473.00,363.09 L474.00,361.85 L475.00,360.60 L476.00,359.35 L477.00,358.11 L478.00,356.92 L479.00,355.78 L480.00,354.72 L481.00,353.75 L482.00,352.89 L483.00,352.16 L484.00,351.55 L485.00,351.09 L486.00,350.78 L487.00,350.62 L488.00,350.62 L489.00,350.78 L490.00,351.09 L491.00,351.55 L492.00,352.16 L493.00,352.89 L494.00,353.75 L495.00,354.72 L496.00,355.78 L497.00,356.92 L498.00,358.11 L499.00,359.35 L500.00,360.60 L501.00,361.85 L502.00,363.09 L503.00,364.28 L504.00,365.42 L505.00,366.48 L506.00,367.45 L507.00,368.31 L508.00,369.04 L509.00,369.65 L510.00,370.11 L511.00,370.42 L512.00,370.58 L513.00,370.58 L514.00,370.42 L515.00,370.11 L516.00,369.65 L517.00,369.04 L518.00,368.31 L519.00,367.45 L520.00,366.48 L521.00,365.42 L522.00,364.28 L523.00,363.09 L524.00,361.85 L525.00,360.60 L526.00,359.35 L527.00,358.11 L528.00,356.92 L529.00,355.78 L530.00,354.72 L531.00,353.75 L532.00,352.89 L533.00,352.16 L534.00,351.55 L535.00,351.09 L536.00,350.78 L537.00,350.62" fill="none" stroke="#4d5190" stroke-width="1.3"/>
<path d="M397.00,370.58 L398.00,370.58 L399.00,370.42 L400.00,370.11 L401.00,369.65 L402.00,369.04 L403.00,368.31 L404.00,367.45 L405.00,366.48 L406.00,365.42 L407.00,364.28 L408.00,363.09 L409.00,361.85 L410.00,360.60 L411.00,359.35 L412.00,358.11 L413.00,356.92 L414.00,355.78 L415.00,354.72 L416.00,353.75 L417.00,352.89 L418.00,352.16 L419.00,351.55 L420.00,351.09 L421.00,350.78 L422.00,350.62 L423.00,350.62 L424.00,350.78 L425.00,351.09 L426.00,351.55 L427.00,352.16 L428.00,352.89 L429.00,353.75 L430.00,354.72 L431.00,355.78 L432.00,356.92 L433.00,358.11 L434.00,359.35 L435.00,360.60 L436.00,361.85 L437.00,363.09 L438.00,364.28 L439.00,365.42 L440.00,366.48 L441.00,367.45 L442.00,368.31 L443.00,369.04 L444.00,369.65 L445.00,370.11 L446.00,370.42 L447.00,370.58 L448.00,370.58 L449.00,370.42 L450.00,370.11 L451.00,369.65 L452.00,369.04 L453.00,368.31 L454.00,367.45 L455.00,366.48 L456.00,365.42 L457.00,364.28 L458.00,363.09 L459.00,361.85 L460.00,360.60 L461.00,359.35 L462.00,358.11 L463.00,356.92 L464.00,355.78 L465.00,354.72 L466.00,353.75 L467.00,352.89 L468.00,352.16 L469.00,351.55 L470.00,351.09 L471.00,350.78 L472.00,350.62 L473.00,350.62 L474.00,350.78 L475.00,351.09 L476.00,351.55 L477.00,352.16 L478.00,352.89 L479.00,353.75 L480.00,354.72 L481.00,355.78 L482.00,356.92 L483.00,358.11 L484.00,359.35 L485.00,360.60 L486.00,361.85 L487.00,363.09 L488.00,364.28 L489.00,365.42 L490.00,366.48 L491.00,367.45 L492.00,368.31 L493.00,369.04 L494.00,369.65 L495.00,370.11 L496.00,370.42 L497.00,370.58 L498.00,370.58 L499.00,370.42 L500.00,370.11 L501.00,369.65 L502.00,369.04 L503.00,368.31 L504.00,367.45 L505.00,366.48 L506.00,365.42 L507.00,364.28 L508.00,363.09 L509.00,361.85 L510.00,360.60 L511.00,359.35 L512.00,358.11 L513.00,356.92 L514.00,355.78 L515.00,354.72 L516.00,353.75 L517.00,352.89 L518.00,352.16 L519.00,351.55 L520.00,351.09 L521.00,350.78 L522.00,350.62 L523.00,350.62 L524.00,350.78 L525.00,351.09 L526.00,351.55 L527.00,352.16 L528.00,352.89 L529.00,353.75 L530.00,354.72 L531.00,355.78 L532.00,356.92 L533.00,358.11 L534.00,359.35 L535.00,360.60 L536.00,361.85 L537.00,363.09 L538.00,364.28 L539.00,365.42 L540.00,366.48 L541.00,367.45 L542.00,368.31 L543.00,369.04 L544.00,369.65 L545.00,370.11 L546.00,370.42 L547.00,370.58" fill="none" stroke="#40a84c" stroke-width="1.4"/>
</g>
<rect x="540.6" y="350.5" width="54.60" height="22.50" fill="#cfc6df" opacity="1.0"/>
<text x="567.90" y="365.30" font-family="Liberation Sans, sans-serif" font-size="13.5" text-anchor="middle" font-weight="bold" fill="#000">VvACS2</text>
<path d="M540.6,350.5 L540.6,335.4 L560.0,335.4" fill="none" stroke="#111" stroke-width="2.0"/>
<path d="M568.0,335.4 L558.5,331.2 L558.5,339.59999999999997 Z" fill="#111"/>
<path d="M540.60,382.10 L541.24,382.14 L541.87,382.24 L542.49,382.42 L543.10,382.66 L543.69,382.96 L544.27,383.31 L544.82,383.71 L545.34,384.14 L545.84,384.60 L546.31,385.07 L546.75,385.55 L547.17,386.03 L547.55,386.48 L547.91,386.92 L548.24,387.31 L548.54,387.66 L548.83,387.96 L549.11,388.19 L549.37,388.36 L549.62,388.47 L549.86,388.50 L550.11,388.46 L550.36,388.35 L550.62,388.17 L550.90,387.93 L551.19,387.62 L551.50,387.27 L551.83,386.87 L552.19,386.43 L552.58,385.97 L552.99,385.50 L553.44,385.02 L553.91,384.55 L554.41,384.09 L554.94,383.66 L555.49,383.27 L556.07,382.92 L556.67,382.63 L557.28,382.40 L557.90,382.23 L558.54,382.13 L559.17,382.10 L559.81,382.14 L560.44,382.26 L561.06,382.44 L561.67,382.69 L562.26,383.00 L562.83,383.35 L563.38,383.75 L563.90,384.19 L564.40,384.65 L564.86,385.13 L565.30,385.61 L565.71,386.08 L566.09,386.53 L566.44,386.96 L566.77,387.35 L567.08,387.70 L567.36,387.99 L567.64,388.22 L567.89,388.38 L568.14,388.48 L568.39,388.50 L568.64,388.45 L568.89,388.33 L569.15,388.15 L569.43,387.89 L569.72,387.59 L570.04,387.23 L570.37,386.82 L570.73,386.38 L571.12,385.92 L571.54,385.45 L571.99,384.97 L572.47,384.49 L572.97,384.04 L573.50,383.62 L574.06,383.23 L574.64,382.89 L575.23,382.60 L575.85,382.37 L576.47,382.21 L577.11,382.12 L577.74,382.10 L578.38,382.15 L579.01,382.28 L579.63,382.47 L580.24,382.72 L580.82,383.03 L581.39,383.40 L581.94,383.80 L582.46,384.24 L582.95,384.70 L583.41,385.18 L583.85,385.66 L584.25,386.13 L584.63,386.58 L584.98,387.01 L585.31,387.39 L585.61,387.73 L585.90,388.01 L586.16,388.24 L586.42,388.39 L586.67,388.48 L586.92,388.50 L587.17,388.44 L587.42,388.31 L587.68,388.12 L587.96,387.86 L588.26,387.55 L588.57,387.18 L588.91,386.77 L589.28,386.33 L589.67,385.87 L590.09,385.39 L590.54,384.91 L591.02,384.44 L591.53,383.99 L592.06,383.57 L592.62,383.19 L593.20,382.85 L593.80,382.57 L594.42,382.35 L595.04,382.20 L595.68,382.12 L596.31,382.10 L596.95,382.16 L597.58,382.29 L598.20,382.49 L598.80,382.75 L599.39,383.07 L599.96,383.44 L600.50,383.85 L601.02,384.29 L601.50,384.76 L601.96,385.23 L602.40,385.71 L602.80,386.18 L603.17,386.63 L603.52,387.05 L603.84,387.43 L604.14,387.77 L604.43,388.04 L604.69,388.26 L604.95,388.41 L605.20,388.49 L605.45,388.49 L605.70,388.43 L605.95,388.30 L606.21,388.09 L606.49,387.83 L606.79,387.51 L607.11,387.14 L607.45,386.73 L607.82,386.28 L608.22,385.82 L608.64,385.34 L609.09,384.86 L609.58,384.39 L610.09,383.94 L610.62,383.52 L611.19,383.15 L611.77,382.82 L612.37,382.54 L612.99,382.33 L613.61,382.19 L614.25,382.11 L614.89,382.11 L615.52,382.18 L616.15,382.31 L616.77,382.52 L617.37,382.79 L617.95,383.11 L618.52,383.48 L619.06,383.90 L619.57,384.34 L620.06,384.81 L620.51,385.29" fill="none" stroke="#ccc4d7" stroke-width="2.6" stroke-linecap="round" stroke-linejoin="round"/>
<path d="M511.80,397.10 L512.44,397.14 L513.07,397.24 L513.69,397.42 L514.30,397.66 L514.89,397.96 L515.47,398.31 L516.02,398.71 L516.54,399.14 L517.04,399.60 L517.51,400.07 L517.95,400.55 L518.37,401.03 L518.75,401.48 L519.11,401.92 L519.44,402.31 L519.74,402.66 L520.03,402.96 L520.31,403.19 L520.57,403.36 L520.82,403.47 L521.06,403.50 L521.31,403.46 L521.56,403.35 L521.82,403.17 L522.10,402.93 L522.39,402.62 L522.70,402.27 L523.03,401.87 L523.39,401.43 L523.78,400.97 L524.19,400.50 L524.64,400.02 L525.11,399.55 L525.61,399.09 L526.14,398.66 L526.69,398.27 L527.27,397.92 L527.87,397.63 L528.48,397.40 L529.10,397.23 L529.74,397.13 L530.37,397.10 L531.01,397.14 L531.64,397.26 L532.26,397.44 L532.87,397.69 L533.46,398.00 L534.03,398.35 L534.58,398.75 L535.10,399.19 L535.60,399.65 L536.06,400.13 L536.50,400.61 L536.91,401.08 L537.29,401.53 L537.64,401.96 L537.97,402.35 L538.28,402.70 L538.56,402.99 L538.84,403.22 L539.09,403.38 L539.34,403.48 L539.59,403.50 L539.84,403.45 L540.09,403.33 L540.35,403.15 L540.63,402.89 L540.92,402.59 L541.24,402.23 L541.57,401.82 L541.93,401.38 L542.32,400.92 L542.74,400.45 L543.19,399.97 L543.67,399.49 L544.17,399.04 L544.70,398.62 L545.26,398.23 L545.84,397.89 L546.43,397.60 L547.05,397.37 L547.67,397.21 L548.31,397.12 L548.94,397.10 L549.58,397.15 L550.21,397.28 L550.83,397.47 L551.44,397.72 L552.02,398.03 L552.59,398.40 L553.14,398.80 L553.66,399.24 L554.15,399.70 L554.61,400.18 L555.05,400.66 L555.45,401.13 L555.83,401.58 L556.18,402.01 L556.51,402.39 L556.81,402.73 L557.10,403.01 L557.36,403.24 L557.62,403.39 L557.87,403.48 L558.12,403.50 L558.37,403.44 L558.62,403.31 L558.88,403.12 L559.16,402.86 L559.46,402.55 L559.77,402.18 L560.11,401.77 L560.48,401.33 L560.87,400.87 L561.29,400.39 L561.74,399.91 L562.22,399.44 L562.73,398.99 L563.26,398.57 L563.82,398.19 L564.40,397.85 L565.00,397.57 L565.62,397.35 L566.24,397.20 L566.88,397.12 L567.51,397.10 L568.15,397.16 L568.78,397.29 L569.40,397.49 L570.00,397.75 L570.59,398.07 L571.16,398.44 L571.70,398.85 L572.22,399.29 L572.70,399.76 L573.16,400.23 L573.60,400.71 L574.00,401.18 L574.37,401.63 L574.72,402.05 L575.04,402.43 L575.34,402.77 L575.63,403.04 L575.89,403.26 L576.15,403.41 L576.40,403.49 L576.65,403.49 L576.90,403.43 L577.15,403.30 L577.41,403.09 L577.69,402.83 L577.99,402.51 L578.31,402.14 L578.65,401.73 L579.02,401.28 L579.42,400.82 L579.84,400.34 L580.29,399.86 L580.78,399.39 L581.29,398.94 L581.82,398.52 L582.39,398.15 L582.97,397.82 L583.57,397.54 L584.19,397.33 L584.81,397.19 L585.45,397.11 L586.09,397.11 L586.72,397.18 L587.35,397.31 L587.97,397.52 L588.57,397.79 L589.15,398.11 L589.72,398.48 L590.26,398.90 L590.77,399.34 L591.26,399.81 L591.71,400.29" fill="none" stroke="#ccc4d7" stroke-width="2.6" stroke-linecap="round" stroke-linejoin="round"/>
<path d="M481.90,412.00 L482.54,412.04 L483.17,412.14 L483.79,412.32 L484.40,412.56 L484.99,412.86 L485.57,413.21 L486.12,413.61 L486.64,414.04 L487.14,414.50 L487.61,414.97 L488.05,415.45 L488.47,415.93 L488.85,416.38 L489.21,416.82 L489.54,417.21 L489.84,417.56 L490.13,417.86 L490.41,418.09 L490.67,418.26 L490.92,418.37 L491.16,418.40 L491.41,418.36 L491.66,418.25 L491.92,418.07 L492.20,417.83 L492.49,417.52 L492.80,417.17 L493.13,416.77 L493.49,416.33 L493.88,415.87 L494.29,415.40 L494.74,414.92 L495.21,414.45 L495.71,413.99 L496.24,413.56 L496.79,413.17 L497.37,412.82 L497.97,412.53 L498.58,412.30 L499.20,412.13 L499.84,412.03 L500.47,412.00 L501.11,412.04 L501.74,412.16 L502.36,412.34 L502.97,412.59 L503.56,412.90 L504.13,413.25 L504.68,413.65 L505.20,414.09 L505.70,414.55 L506.16,415.03 L506.60,415.51 L507.01,415.98 L507.39,416.43 L507.74,416.86 L508.07,417.25 L508.38,417.60 L508.66,417.89 L508.94,418.12 L509.19,418.28 L509.44,418.38 L509.69,418.40 L509.94,418.35 L510.19,418.23 L510.45,418.05 L510.73,417.79 L511.02,417.49 L511.34,417.13 L511.67,416.72 L512.03,416.28 L512.42,415.82 L512.84,415.35 L513.29,414.87 L513.77,414.39 L514.27,413.94 L514.80,413.52 L515.36,413.13 L515.94,412.79 L516.53,412.50 L517.15,412.27 L517.77,412.11 L518.41,412.02 L519.04,412.00 L519.68,412.05 L520.31,412.18 L520.93,412.37 L521.54,412.62 L522.12,412.93 L522.69,413.30 L523.24,413.70 L523.76,414.14 L524.25,414.60 L524.71,415.08 L525.15,415.56 L525.55,416.03 L525.93,416.48 L526.28,416.91 L526.61,417.29 L526.91,417.63 L527.20,417.91 L527.46,418.14 L527.72,418.29 L527.97,418.38 L528.22,418.40 L528.47,418.34 L528.72,418.21 L528.98,418.02 L529.26,417.76 L529.56,417.45 L529.87,417.08 L530.21,416.67 L530.58,416.23 L530.97,415.77 L531.39,415.29 L531.84,414.81 L532.32,414.34 L532.83,413.89 L533.36,413.47 L533.92,413.09 L534.50,412.75 L535.10,412.47 L535.72,412.25 L536.34,412.10 L536.98,412.02 L537.61,412.00 L538.25,412.06 L538.88,412.19 L539.50,412.39 L540.10,412.65 L540.69,412.97 L541.26,413.34 L541.80,413.75 L542.32,414.19 L542.80,414.66 L543.26,415.13 L543.70,415.61 L544.10,416.08 L544.47,416.53 L544.82,416.95 L545.14,417.33 L545.44,417.67 L545.73,417.94 L545.99,418.16 L546.25,418.31 L546.50,418.39 L546.75,418.39 L547.00,418.33 L547.25,418.20 L547.51,417.99 L547.79,417.73 L548.09,417.41 L548.41,417.04 L548.75,416.63 L549.12,416.18 L549.52,415.72 L549.94,415.24 L550.39,414.76 L550.88,414.29 L551.39,413.84 L551.92,413.42 L552.49,413.05 L553.07,412.72 L553.67,412.44 L554.29,412.23 L554.91,412.09 L555.55,412.01 L556.19,412.01 L556.82,412.08 L557.45,412.21 L558.07,412.42 L558.67,412.69 L559.25,413.01 L559.82,413.38 L560.36,413.80 L560.87,414.24 L561.36,414.71 L561.81,415.19" fill="none" stroke="#ccc4d7" stroke-width="2.6" stroke-linecap="round" stroke-linejoin="round"/>
<line x1="571.7" y1="108" x2="571.7" y2="162" stroke="#808080" stroke-width="2.4" stroke-dasharray="6 4.2"/>
<line x1="571.8" y1="71.3" x2="571.8" y2="75" stroke="#808080" stroke-width="1.5"/>
<line x1="571.8" y1="89.3" x2="571.8" y2="97.3" stroke="#808080" stroke-width="1.6"/>
<path d="M565.2,160.6 L578.5,160.6 L571.8,184.2 Z" fill="#808080"/>
<path d="M196.6,404.5 C197.8,420 201.5,431 210.6,439.2 L218.2,438.6 L222.8,456.2 L205,452.2 L207.6,448.8 C199.5,441 195.6,428 195.3,405.5 Z" fill="#f6cd8c"/>
<path d="M533.9,430 C536.2,442 534.5,453 525.2,461.6 L527.2,465.3 L514.3,468.8 L517.6,456.6 L520.6,458.6 C528.5,451 532.3,443 533.1,430.6 Z" fill="#8fc1e3"/>
<clipPath id="pl1"><ellipse cx="247" cy="527.6" rx="65" ry="57"/></clipPath>
<ellipse cx="247" cy="527.6" rx="65" ry="57" fill="#dbdcd7"/>
<g clip-path="url(#pl1)">
<rect x="189.0" y="494.6" width="50" height="22" rx="11.0" fill="#e3eadb" transform="rotate(-40 214.0 505.6)"/>
<path d="M201.5,501.2 L226.5,501.2 M201.5,503.4 L226.5,503.4 M201.5,505.6 L226.5,505.6 M201.5,507.8 L226.5,507.8 M201.5,510.0 L226.5,510.0" stroke="#eef2ea" stroke-width="0.8" transform="rotate(-40 214.0 505.6)"/>
<rect x="183.0" y="530.6" width="48" height="22" rx="11.0" fill="#e3eadb" transform="rotate(-40 207.0 541.6)"/>
<path d="M195.0,537.2 L219.0,537.2 M195.0,539.4 L219.0,539.4 M195.0,541.6 L219.0,541.6 M195.0,543.8 L219.0,543.8 M195.0,546.0 L219.0,546.0" stroke="#eef2ea" stroke-width="0.8" transform="rotate(-40 207.0 541.6)"/>
<rect x="228.5" y="515.6" width="55" height="24" rx="12.0" fill="#e3eadb" transform="rotate(-40 256.0 527.6)"/>
<path d="M242.2,523.2 L269.8,523.2 M242.2,525.4 L269.8,525.4 M242.2,527.6 L269.8,527.6 M242.2,529.8 L269.8,529.8 M242.2,532.0 L269.8,532.0" stroke="#eef2ea" stroke-width="0.8" transform="rotate(-40 256.0 527.6)"/>
<rect x="248.0" y="485.6" width="48" height="22" rx="11.0" fill="#e3eadb" transform="rotate(-40 272.0 496.6)"/>
<path d="M260.0,492.2 L284.0,492.2 M260.0,494.4 L284.0,494.4 M260.0,496.6 L284.0,496.6 M260.0,498.8 L284.0,498.8 M260.0,501.0 L284.0,501.0" stroke="#eef2ea" stroke-width="0.8" transform="rotate(-40 272.0 496.6)"/>
<rect x="219.0" y="547.6" width="40" height="20" rx="10.0" fill="#e3eadb" transform="rotate(-40 239.0 557.6)"/>
<path d="M229.0,553.2 L249.0,553.2 M229.0,555.4 L249.0,555.4 M229.0,557.6 L249.0,557.6 M229.0,559.8 L249.0,559.8 M229.0,562.0 L249.0,562.0" stroke="#eef2ea" stroke-width="0.8" transform="rotate(-40 239.0 557.6)"/>
<rect x="277.0" y="523.6" width="30" height="18" rx="9.0" fill="#e3eadb" transform="rotate(-40 292.0 532.6)"/>
<path d="M284.5,528.2 L299.5,528.2 M284.5,530.4 L299.5,530.4 M284.5,532.6 L299.5,532.6 M284.5,534.8 L299.5,534.8 M284.5,537.0 L299.5,537.0" stroke="#eef2ea" stroke-width="0.8" transform="rotate(-40 292.0 532.6)"/>
<rect x="222.0" y="472.6" width="30" height="14" rx="7.0" fill="#e3eadb" transform="rotate(-40 237.0 479.6)"/>
<path d="M229.5,475.2 L244.5,475.2 M229.5,477.4 L244.5,477.4 M229.5,479.6 L244.5,479.6 M229.5,481.8 L244.5,481.8 M229.5,484.0 L244.5,484.0" stroke="#eef2ea" stroke-width="0.8" transform="rotate(-40 237.0 479.6)"/>
<path d="M-68,8 Q-30,-30 12,-60" fill="none" stroke="#f1f3ee" stroke-width="2.6" opacity="0.9" transform="translate(247 527.6)"/>
<path d="M-32,54 Q20,35 70,-10" fill="none" stroke="#f1f3ee" stroke-width="3.2" opacity="0.95" transform="translate(247 527.6)"/>
<path d="M-70,42 Q0,-5 60,-55" fill="none" stroke="#f1f3ee" stroke-width="1.2" opacity="0.6" transform="translate(247 527.6)"/>
<ellipse cx="195" cy="530.6" rx="1.6" ry="1.1" fill="#f2f2ea" transform="rotate(-35 195 530.6)"/>
<ellipse cx="277" cy="494.6" rx="2.2" ry="1.5" fill="#f2f2ea" transform="rotate(-35 277 494.6)"/>
<ellipse cx="293" cy="520.6" rx="3.2" ry="2.2" fill="#f2f2ea" transform="rotate(-35 293 520.6)"/>
<ellipse cx="275" cy="545.6" rx="2.0" ry="1.4" fill="#f2f2ea" transform="rotate(-35 275 545.6)"/>
</g>
<ellipse cx="245.6" cy="489.6" rx="12.9" ry="8.4" fill="#c9badb" stroke="#9474b8" stroke-width="1.9"/>
<line x1="244.8" y1="510.2" x2="244.8" y2="522.9" stroke="#6c6c6c" stroke-width="1.5"/>
<path d="M241.5,520.6 L248.10000000000002,520.6 L244.8,530.9 Z" fill="#6c6c6c"/>
<polygon points="234.30,535.10 236.39,538.93 240.67,539.73 237.68,542.90 238.24,547.22 234.30,545.35 230.36,547.22 230.92,542.90 227.93,539.73 232.21,538.93" fill="#f47f12" stroke="#f47f12" stroke-width="0.9" stroke-linejoin="round"/>
<polygon points="255.30,534.30 257.39,538.13 261.67,538.93 258.68,542.10 259.24,546.42 255.30,544.55 251.36,546.42 251.92,542.10 248.93,538.93 253.21,538.13" fill="#f47f12" stroke="#f47f12" stroke-width="0.9" stroke-linejoin="round"/>
<circle cx="221.8" cy="560.2" r="6.4" fill="#f4c6c9"/>
<circle cx="221.8" cy="560.2" r="3.25" fill="#e73d4e"/>
<circle cx="244.8" cy="574.6" r="6.4" fill="#f4c6c9"/>
<circle cx="244.8" cy="574.6" r="3.25" fill="#e73d4e"/>
<text x="141.4" y="495" font-family="Liberation Sans, sans-serif" font-size="15.4" text-anchor="start" font-weight="normal" fill="#111">plastid</text>
<clipPath id="pl2"><ellipse cx="501.5" cy="527.8" rx="65" ry="56.5"/></clipPath>
<ellipse cx="501.5" cy="527.8" rx="65" ry="56.5" fill="#d9dcd9"/>
<g clip-path="url(#pl2)">
<rect x="443.5" y="494.8" width="50" height="22" rx="11.0" fill="#e3eadb" transform="rotate(-40 468.5 505.8)"/>
<path d="M456.0,501.4 L481.0,501.4 M456.0,503.6 L481.0,503.6 M456.0,505.8 L481.0,505.8 M456.0,508.0 L481.0,508.0 M456.0,510.2 L481.0,510.2" stroke="#eef2ea" stroke-width="0.8" transform="rotate(-40 468.5 505.8)"/>
<rect x="437.5" y="530.8" width="48" height="22" rx="11.0" fill="#e3eadb" transform="rotate(-40 461.5 541.8)"/>
<path d="M449.5,537.4 L473.5,537.4 M449.5,539.6 L473.5,539.6 M449.5,541.8 L473.5,541.8 M449.5,544.0 L473.5,544.0 M449.5,546.2 L473.5,546.2" stroke="#eef2ea" stroke-width="0.8" transform="rotate(-40 461.5 541.8)"/>
<rect x="483.0" y="515.8" width="55" height="24" rx="12.0" fill="#e3eadb" transform="rotate(-40 510.5 527.8)"/>
<path d="M496.8,523.4 L524.2,523.4 M496.8,525.6 L524.2,525.6 M496.8,527.8 L524.2,527.8 M496.8,530.0 L524.2,530.0 M496.8,532.2 L524.2,532.2" stroke="#eef2ea" stroke-width="0.8" transform="rotate(-40 510.5 527.8)"/>
<rect x="502.5" y="485.8" width="48" height="22" rx="11.0" fill="#e3eadb" transform="rotate(-40 526.5 496.8)"/>
<path d="M514.5,492.4 L538.5,492.4 M514.5,494.6 L538.5,494.6 M514.5,496.8 L538.5,496.8 M514.5,499.0 L538.5,499.0 M514.5,501.2 L538.5,501.2" stroke="#eef2ea" stroke-width="0.8" transform="rotate(-40 526.5 496.8)"/>
<rect x="473.5" y="547.8" width="40" height="20" rx="10.0" fill="#e3eadb" transform="rotate(-40 493.5 557.8)"/>
<path d="M483.5,553.4 L503.5,553.4 M483.5,555.6 L503.5,555.6 M483.5,557.8 L503.5,557.8 M483.5,560.0 L503.5,560.0 M483.5,562.2 L503.5,562.2" stroke="#eef2ea" stroke-width="0.8" transform="rotate(-40 493.5 557.8)"/>
<rect x="531.5" y="523.8" width="30" height="18" rx="9.0" fill="#e3eadb" transform="rotate(-40 546.5 532.8)"/>
<path d="M539.0,528.4 L554.0,528.4 M539.0,530.6 L554.0,530.6 M539.0,532.8 L554.0,532.8 M539.0,535.0 L554.0,535.0 M539.0,537.2 L554.0,537.2" stroke="#eef2ea" stroke-width="0.8" transform="rotate(-40 546.5 532.8)"/>
<rect x="476.5" y="472.8" width="30" height="14" rx="7.0" fill="#e3eadb" transform="rotate(-40 491.5 479.8)"/>
<path d="M484.0,475.4 L499.0,475.4 M484.0,477.6 L499.0,477.6 M484.0,479.8 L499.0,479.8 M484.0,482.0 L499.0,482.0 M484.0,484.2 L499.0,484.2" stroke="#eef2ea" stroke-width="0.8" transform="rotate(-40 491.5 479.8)"/>
<path d="M-68,8 Q-30,-30 12,-60" fill="none" stroke="#f1f3ee" stroke-width="2.6" opacity="0.9" transform="translate(501.5 527.8)"/>
<path d="M-32,54 Q20,35 70,-10" fill="none" stroke="#f1f3ee" stroke-width="3.2" opacity="0.95" transform="translate(501.5 527.8)"/>
<path d="M-70,42 Q0,-5 60,-55" fill="none" stroke="#f1f3ee" stroke-width="1.2" opacity="0.6" transform="translate(501.5 527.8)"/>
<ellipse cx="449.5" cy="530.8" rx="1.6" ry="1.1" fill="#f2f2ea" transform="rotate(-35 449.5 530.8)"/>
<ellipse cx="531.5" cy="494.79999999999995" rx="2.2" ry="1.5" fill="#f2f2ea" transform="rotate(-35 531.5 494.79999999999995)"/>
<ellipse cx="547.5" cy="520.8" rx="3.2" ry="2.2" fill="#f2f2ea" transform="rotate(-35 547.5 520.8)"/>
<ellipse cx="529.5" cy="545.8" rx="2.0" ry="1.4" fill="#f2f2ea" transform="rotate(-35 529.5 545.8)"/>
</g>
<ellipse cx="482.8" cy="490" rx="12.7" ry="8.3" fill="#c9badb" stroke="#9474b8" stroke-width="1.9"/>
<ellipse cx="512.2" cy="490" rx="12.7" ry="8.3" fill="#c9badb" stroke="#9474b8" stroke-width="1.9"/>
<ellipse cx="496.0" cy="509.7" rx="12.7" ry="8.3" fill="#c9badb" stroke="#9474b8" stroke-width="1.9"/>
<ellipse cx="525.9" cy="509.7" rx="12.7" ry="8.3" fill="#c9badb" stroke="#9474b8" stroke-width="1.9"/>
<line x1="513.2" y1="518.8" x2="513.2" y2="532.3" stroke="#6c6c6c" stroke-width="1.5"/>
<path d="M509.90000000000003,530.0 L516.5,530.0 L513.2,540.3 Z" fill="#6c6c6c"/>
<polygon points="466.80,543.40 468.89,547.23 473.17,548.03 470.18,551.20 470.74,555.52 466.80,553.65 462.86,555.52 463.42,551.20 460.43,548.03 464.71,547.23" fill="#f47f12" stroke="#f47f12" stroke-width="0.9" stroke-linejoin="round"/>
<polygon points="482.80,537.60 484.89,541.43 489.17,542.23 486.18,545.40 486.74,549.72 482.80,547.85 478.86,549.72 479.42,545.40 476.43,542.23 480.71,541.43" fill="#f47f12" stroke="#f47f12" stroke-width="0.9" stroke-linejoin="round"/>
<polygon points="497.50,537.60 499.59,541.43 503.87,542.23 500.88,545.40 501.44,549.72 497.50,547.85 493.56,549.72 494.12,545.40 491.13,542.23 495.41,541.43" fill="#f47f12" stroke="#f47f12" stroke-width="0.9" stroke-linejoin="round"/>
<polygon points="516.10,543.80 518.19,547.63 522.47,548.43 519.48,551.60 520.04,555.92 516.10,554.05 512.16,555.92 512.72,551.60 509.73,548.43 514.01,547.63" fill="#f47f12" stroke="#f47f12" stroke-width="0.9" stroke-linejoin="round"/>
<polygon points="531.80,547.90 533.89,551.73 538.17,552.53 535.18,555.70 535.74,560.02 531.80,558.15 527.86,560.02 528.42,555.70 525.43,552.53 529.71,551.73" fill="#f47f12" stroke="#f47f12" stroke-width="0.9" stroke-linejoin="round"/>
<polygon points="543.90,534.60 545.99,538.43 550.27,539.23 547.28,542.40 547.84,546.72 543.90,544.85 539.96,546.72 540.52,542.40 537.53,539.23 541.81,538.43" fill="#f47f12" stroke="#f47f12" stroke-width="0.9" stroke-linejoin="round"/>
<circle cx="476" cy="560.3" r="6.4" fill="#f4c6c9"/>
<circle cx="476" cy="560.3" r="3.25" fill="#e73d4e"/>
<circle cx="487.3" cy="555" r="6.4" fill="#f4c6c9"/>
<circle cx="487.3" cy="555" r="3.25" fill="#e73d4e"/>
<circle cx="496.9" cy="564.2" r="6.4" fill="#f4c6c9"/>
<circle cx="496.9" cy="564.2" r="3.25" fill="#e73d4e"/>
<circle cx="515.7" cy="560.9" r="6.4" fill="#f4c6c9"/>
<circle cx="515.7" cy="560.9" r="3.25" fill="#e73d4e"/>
<circle cx="534.7" cy="567.7" r="6.4" fill="#f4c6c9"/>
<circle cx="534.7" cy="567.7" r="3.25" fill="#e73d4e"/>
<circle cx="486.8" cy="573.6" r="6.4" fill="#f4c6c9"/>
<circle cx="486.8" cy="573.6" r="3.25" fill="#e73d4e"/>
<circle cx="519" cy="577" r="6.4" fill="#f4c6c9"/>
<circle cx="519" cy="577" r="3.25" fill="#e73d4e"/>
<text x="557.3" y="490" font-family="Liberation Sans, sans-serif" font-size="15.7" text-anchor="start" font-weight="normal" fill="#111">plastid</text>
<ellipse cx="18" cy="564.8" rx="8.2" ry="5.6" fill="#d0c5e0" stroke="#a98bc4" stroke-width="1.9"/>
<polygon points="17.50,580.20 19.52,583.91 23.68,584.69 20.78,587.76 21.32,591.96 17.50,590.15 13.68,591.96 14.22,587.76 11.32,584.69 15.48,583.91" fill="#f47f12" stroke="#f47f12" stroke-width="0.9" stroke-linejoin="round"/>
<circle cx="17.8" cy="608" r="6.4" fill="#f4c6c9"/>
<circle cx="17.8" cy="608" r="3.25" fill="#e73d4e"/>
<text x="29.7" y="568.7" font-family="Liberation Sans, sans-serif" font-size="13.3" text-anchor="start" font-weight="normal" fill="#111">ACS2</text>
<text x="30" y="590.8" font-family="Liberation Sans, sans-serif" font-size="13" text-anchor="start" font-weight="normal" fill="#111">ACC</text>
<text x="30.3" y="612.8" font-family="Liberation Sans, sans-serif" font-size="13" text-anchor="start" font-weight="normal" fill="#111">ETH</text>
<ellipse cx="764.4" cy="564.8" rx="8.2" ry="5.6" fill="#d0c5e0" stroke="#a98bc4" stroke-width="1.9"/>
<polygon points="764.50,580.40 766.52,584.11 770.68,584.89 767.78,587.96 768.32,592.16 764.50,590.35 760.68,592.16 761.22,587.96 758.32,584.89 762.48,584.11" fill="#f47f12" stroke="#f47f12" stroke-width="0.9" stroke-linejoin="round"/>
<circle cx="764.5" cy="607.8" r="6.4" fill="#f4c6c9"/>
<circle cx="764.5" cy="607.8" r="3.25" fill="#e73d4e"/>
<text x="751.3" y="568.5" font-family="Liberation Sans, sans-serif" font-size="13.3" text-anchor="end" font-weight="normal" fill="#111">ACS2</text>
<text x="751.3" y="591.5" font-family="Liberation Sans, sans-serif" font-size="13" text-anchor="end" font-weight="normal" fill="#111">ACC</text>
<text x="751.3" y="612.4" font-family="Liberation Sans, sans-serif" font-size="13" text-anchor="end" font-weight="normal" fill="#111">ETH</text>
<text x="186.6" y="616.8" font-family="Liberation Sans, sans-serif" font-size="20.4" text-anchor="middle" font-weight="normal" fill="#111">Plant growth</text>
<text x="576.3" y="616.8" font-family="Liberation Sans, sans-serif" font-size="20.55" text-anchor="middle" font-weight="normal" fill="#111">Cold tolerance</text>
</svg>
</body></html>
